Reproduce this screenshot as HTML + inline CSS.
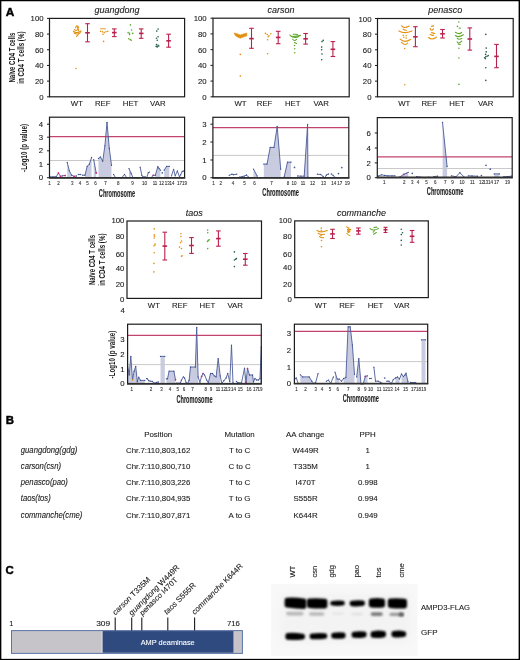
<!DOCTYPE html>
<html><head><meta charset="utf-8"><title>Figure</title>
<style>
html,body{margin:0;padding:0;background:#fff;}
body{width:520px;height:660px;overflow:hidden;}
svg{display:block;will-change:transform;font-family:"Liberation Sans", sans-serif;}
</style></head><body>
<svg width="520" height="660" viewBox="0 0 520 660">
<rect x="0" y="0" width="520" height="660" fill="#ffffff" />
<rect x="0" y="0" width="520" height="1.25" fill="#000" />
<rect x="0" y="658.85" width="520" height="1.15" fill="#000" />
<rect x="0" y="0" width="1.35" height="660" fill="#000" />
<rect x="518.6" y="0" width="1.4" height="660" fill="#000" />
<g style="stroke:#000;stroke-width:0.45px;font-weight:bold;fill:#000">
<text x="5.7" y="15.7" style="font-size:11.8px">A</text>
<text x="5.7" y="423.5" style="font-size:11.4px">B</text>
<text x="5.5" y="573.8" style="font-size:11.4px">C</text>
</g>
<rect x="49.5" y="18.4" width="135.1" height="78.4" fill="none" stroke="#1c1c1c" stroke-width="1.2"/>
<text  x="117.05" y="13.3" text-anchor="middle" style="font-size:9px;font-style:italic;fill:#1a1a1a;stroke:#1a1a1a;stroke-width:0.1px" >guangdong</text>
<text  x="43.6" y="99.8" text-anchor="end" style="font-size:7.8px;fill:#1a1a1a;stroke:#1a1a1a;stroke-width:0.1px" >0</text>
<line x1="47" y1="96.8" x2="49.5" y2="96.8" stroke="#1c1c1c" stroke-width="1" />
<text  x="43.6" y="84.12" text-anchor="end" style="font-size:7.8px;fill:#1a1a1a;stroke:#1a1a1a;stroke-width:0.1px" >20</text>
<line x1="47" y1="81.12" x2="49.5" y2="81.12" stroke="#1c1c1c" stroke-width="1" />
<text  x="43.6" y="68.44" text-anchor="end" style="font-size:7.8px;fill:#1a1a1a;stroke:#1a1a1a;stroke-width:0.1px" >40</text>
<line x1="47" y1="65.44" x2="49.5" y2="65.44" stroke="#1c1c1c" stroke-width="1" />
<text  x="43.6" y="52.76" text-anchor="end" style="font-size:7.8px;fill:#1a1a1a;stroke:#1a1a1a;stroke-width:0.1px" >60</text>
<line x1="47" y1="49.76" x2="49.5" y2="49.76" stroke="#1c1c1c" stroke-width="1" />
<text  x="43.6" y="37.08" text-anchor="end" style="font-size:7.8px;fill:#1a1a1a;stroke:#1a1a1a;stroke-width:0.1px" >80</text>
<line x1="47" y1="34.08" x2="49.5" y2="34.08" stroke="#1c1c1c" stroke-width="1" />
<text  x="43.6" y="21.4" text-anchor="end" style="font-size:7.8px;fill:#1a1a1a;stroke:#1a1a1a;stroke-width:0.1px" >100</text>
<line x1="47" y1="18.4" x2="49.5" y2="18.4" stroke="#1c1c1c" stroke-width="1" />
<text  x="76.9" y="106.3" text-anchor="middle" style="font-size:7.8px;fill:#1a1a1a;stroke:#1a1a1a;stroke-width:0.1px" >WT</text>
<text  x="102.7" y="106.3" text-anchor="middle" style="font-size:7.8px;fill:#1a1a1a;stroke:#1a1a1a;stroke-width:0.1px" >REF</text>
<text  x="130.6" y="106.3" text-anchor="middle" style="font-size:7.8px;fill:#1a1a1a;stroke:#1a1a1a;stroke-width:0.1px" >HET</text>
<text  x="157.8" y="106.3" text-anchor="middle" style="font-size:7.8px;fill:#1a1a1a;stroke:#1a1a1a;stroke-width:0.1px" >VAR</text>
<rect x="213" y="18.2" width="136.2" height="78.6" fill="none" stroke="#1c1c1c" stroke-width="1.2"/>
<text  x="281.1" y="13.3" text-anchor="middle" style="font-size:9px;font-style:italic;fill:#1a1a1a;stroke:#1a1a1a;stroke-width:0.1px" >carson</text>
<text  x="206.7" y="99.8" text-anchor="end" style="font-size:7.8px;fill:#1a1a1a;stroke:#1a1a1a;stroke-width:0.1px" >0</text>
<line x1="210.5" y1="96.8" x2="213" y2="96.8" stroke="#1c1c1c" stroke-width="1" />
<text  x="206.7" y="84.08" text-anchor="end" style="font-size:7.8px;fill:#1a1a1a;stroke:#1a1a1a;stroke-width:0.1px" >20</text>
<line x1="210.5" y1="81.08" x2="213" y2="81.08" stroke="#1c1c1c" stroke-width="1" />
<text  x="206.7" y="68.36" text-anchor="end" style="font-size:7.8px;fill:#1a1a1a;stroke:#1a1a1a;stroke-width:0.1px" >40</text>
<line x1="210.5" y1="65.36" x2="213" y2="65.36" stroke="#1c1c1c" stroke-width="1" />
<text  x="206.7" y="52.64" text-anchor="end" style="font-size:7.8px;fill:#1a1a1a;stroke:#1a1a1a;stroke-width:0.1px" >60</text>
<line x1="210.5" y1="49.64" x2="213" y2="49.64" stroke="#1c1c1c" stroke-width="1" />
<text  x="206.7" y="36.92" text-anchor="end" style="font-size:7.8px;fill:#1a1a1a;stroke:#1a1a1a;stroke-width:0.1px" >80</text>
<line x1="210.5" y1="33.92" x2="213" y2="33.92" stroke="#1c1c1c" stroke-width="1" />
<text  x="206.7" y="21.2" text-anchor="end" style="font-size:7.8px;fill:#1a1a1a;stroke:#1a1a1a;stroke-width:0.1px" >100</text>
<line x1="210.5" y1="18.2" x2="213" y2="18.2" stroke="#1c1c1c" stroke-width="1" />
<text  x="240.5" y="106.3" text-anchor="middle" style="font-size:7.8px;fill:#1a1a1a;stroke:#1a1a1a;stroke-width:0.1px" >WT</text>
<text  x="264.6" y="106.3" text-anchor="middle" style="font-size:7.8px;fill:#1a1a1a;stroke:#1a1a1a;stroke-width:0.1px" >REF</text>
<text  x="292.7" y="106.3" text-anchor="middle" style="font-size:7.8px;fill:#1a1a1a;stroke:#1a1a1a;stroke-width:0.1px" >HET</text>
<text  x="321.2" y="106.3" text-anchor="middle" style="font-size:7.8px;fill:#1a1a1a;stroke:#1a1a1a;stroke-width:0.1px" >VAR</text>
<rect x="377.5" y="18.5" width="135.7" height="78.3" fill="none" stroke="#1c1c1c" stroke-width="1.2"/>
<text  x="445.35" y="13.3" text-anchor="middle" style="font-size:9px;font-style:italic;fill:#1a1a1a;stroke:#1a1a1a;stroke-width:0.1px" >penasco</text>
<text  x="371.5" y="99.8" text-anchor="end" style="font-size:7.8px;fill:#1a1a1a;stroke:#1a1a1a;stroke-width:0.1px" >0</text>
<line x1="375" y1="96.8" x2="377.5" y2="96.8" stroke="#1c1c1c" stroke-width="1" />
<text  x="371.5" y="84.14" text-anchor="end" style="font-size:7.8px;fill:#1a1a1a;stroke:#1a1a1a;stroke-width:0.1px" >20</text>
<line x1="375" y1="81.14" x2="377.5" y2="81.14" stroke="#1c1c1c" stroke-width="1" />
<text  x="371.5" y="68.48" text-anchor="end" style="font-size:7.8px;fill:#1a1a1a;stroke:#1a1a1a;stroke-width:0.1px" >40</text>
<line x1="375" y1="65.48" x2="377.5" y2="65.48" stroke="#1c1c1c" stroke-width="1" />
<text  x="371.5" y="52.82" text-anchor="end" style="font-size:7.8px;fill:#1a1a1a;stroke:#1a1a1a;stroke-width:0.1px" >60</text>
<line x1="375" y1="49.82" x2="377.5" y2="49.82" stroke="#1c1c1c" stroke-width="1" />
<text  x="371.5" y="37.16" text-anchor="end" style="font-size:7.8px;fill:#1a1a1a;stroke:#1a1a1a;stroke-width:0.1px" >80</text>
<line x1="375" y1="34.16" x2="377.5" y2="34.16" stroke="#1c1c1c" stroke-width="1" />
<text  x="371.5" y="21.5" text-anchor="end" style="font-size:7.8px;fill:#1a1a1a;stroke:#1a1a1a;stroke-width:0.1px" >100</text>
<line x1="375" y1="18.5" x2="377.5" y2="18.5" stroke="#1c1c1c" stroke-width="1" />
<text  x="404.2" y="106.3" text-anchor="middle" style="font-size:7.8px;fill:#1a1a1a;stroke:#1a1a1a;stroke-width:0.1px" >WT</text>
<text  x="429.2" y="106.3" text-anchor="middle" style="font-size:7.8px;fill:#1a1a1a;stroke:#1a1a1a;stroke-width:0.1px" >REF</text>
<text  x="457.1" y="106.3" text-anchor="middle" style="font-size:7.8px;fill:#1a1a1a;stroke:#1a1a1a;stroke-width:0.1px" >HET</text>
<text  x="485.7" y="106.3" text-anchor="middle" style="font-size:7.8px;fill:#1a1a1a;stroke:#1a1a1a;stroke-width:0.1px" >VAR</text>
<rect x="127" y="221" width="134.5" height="77.4" fill="none" stroke="#1c1c1c" stroke-width="1.2"/>
<text  x="194.25" y="216.2" text-anchor="middle" style="font-size:9px;font-style:italic;fill:#1a1a1a;stroke:#1a1a1a;stroke-width:0.1px" >taos</text>
<text  x="124.4" y="223.3" text-anchor="end" style="font-size:7.8px;fill:#1a1a1a;stroke:#1a1a1a;stroke-width:0.1px" >100</text>
<text  x="124.4" y="239.2" text-anchor="end" style="font-size:7.8px;fill:#1a1a1a;stroke:#1a1a1a;stroke-width:0.1px" >80</text>
<text  x="124.4" y="256.9" text-anchor="end" style="font-size:7.8px;fill:#1a1a1a;stroke:#1a1a1a;stroke-width:0.1px" >60</text>
<text  x="124.4" y="270.7" text-anchor="end" style="font-size:7.8px;fill:#1a1a1a;stroke:#1a1a1a;stroke-width:0.1px" >40</text>
<text  x="124.4" y="286.6" text-anchor="end" style="font-size:7.8px;fill:#1a1a1a;stroke:#1a1a1a;stroke-width:0.1px" >20</text>
<text  x="124.4" y="301.8" text-anchor="end" style="font-size:7.8px;fill:#1a1a1a;stroke:#1a1a1a;stroke-width:0.1px" >0</text>
<text  x="153.9" y="308.4" text-anchor="middle" style="font-size:7.8px;fill:#1a1a1a;stroke:#1a1a1a;stroke-width:0.1px" >WT</text>
<text  x="179.8" y="308.4" text-anchor="middle" style="font-size:7.8px;fill:#1a1a1a;stroke:#1a1a1a;stroke-width:0.1px" >REF</text>
<text  x="207.4" y="308.4" text-anchor="middle" style="font-size:7.8px;fill:#1a1a1a;stroke:#1a1a1a;stroke-width:0.1px" >HET</text>
<text  x="235.2" y="308.4" text-anchor="middle" style="font-size:7.8px;fill:#1a1a1a;stroke:#1a1a1a;stroke-width:0.1px" >VAR</text>
<rect x="294.7" y="220.9" width="133.6" height="76.7" fill="none" stroke="#1c1c1c" stroke-width="1.2"/>
<text  x="361.5" y="216.2" text-anchor="middle" style="font-size:9px;font-style:italic;fill:#1a1a1a;stroke:#1a1a1a;stroke-width:0.1px" >commanche</text>
<text  x="291.8" y="223.2" text-anchor="end" style="font-size:7.8px;fill:#1a1a1a;stroke:#1a1a1a;stroke-width:0.1px" >100</text>
<text  x="291.8" y="239.2" text-anchor="end" style="font-size:7.8px;fill:#1a1a1a;stroke:#1a1a1a;stroke-width:0.1px" >80</text>
<text  x="291.8" y="256.9" text-anchor="end" style="font-size:7.8px;fill:#1a1a1a;stroke:#1a1a1a;stroke-width:0.1px" >60</text>
<text  x="291.8" y="270.4" text-anchor="end" style="font-size:7.8px;fill:#1a1a1a;stroke:#1a1a1a;stroke-width:0.1px" >40</text>
<text  x="291.8" y="286.6" text-anchor="end" style="font-size:7.8px;fill:#1a1a1a;stroke:#1a1a1a;stroke-width:0.1px" >20</text>
<text  x="291.8" y="301.6" text-anchor="end" style="font-size:7.8px;fill:#1a1a1a;stroke:#1a1a1a;stroke-width:0.1px" >0</text>
<text  x="320.9" y="307.8" text-anchor="middle" style="font-size:7.8px;fill:#1a1a1a;stroke:#1a1a1a;stroke-width:0.1px" >WT</text>
<text  x="347" y="307.8" text-anchor="middle" style="font-size:7.8px;fill:#1a1a1a;stroke:#1a1a1a;stroke-width:0.1px" >REF</text>
<text  x="375.5" y="307.8" text-anchor="middle" style="font-size:7.8px;fill:#1a1a1a;stroke:#1a1a1a;stroke-width:0.1px" >HET</text>
<text  x="401.8" y="307.8" text-anchor="middle" style="font-size:7.8px;fill:#1a1a1a;stroke:#1a1a1a;stroke-width:0.1px" >VAR</text>
<text transform="translate(15.3 57.6) rotate(-90)" x="0" y="0" text-anchor="middle" textLength="49.8" lengthAdjust="spacingAndGlyphs" style="font-size:8.4px;fill:#1a1a1a;font-weight:bold">Naïve CD4 T cells</text>
<text transform="translate(23.9 57.6) rotate(-90)" x="0" y="0" text-anchor="middle" textLength="52.2" lengthAdjust="spacingAndGlyphs" style="font-size:8.4px;fill:#1a1a1a;font-weight:bold">in CD4 T cells (%)</text>
<text transform="translate(94.9 260) rotate(-90)" x="0" y="0" text-anchor="middle" textLength="50" lengthAdjust="spacingAndGlyphs" style="font-size:8.4px;fill:#1a1a1a;font-weight:bold">Naïve CD4 T cells</text>
<text transform="translate(104.5 259.6) rotate(-90)" x="0" y="0" text-anchor="middle" textLength="52.3" lengthAdjust="spacingAndGlyphs" style="font-size:8.4px;fill:#1a1a1a;font-weight:bold">in CD4 T cells (%)</text>
<path d="M75.6 27.6 Q76.9 24.3 78.6 27.4" fill="none" stroke="#e2900f" stroke-width="1.15" stroke-linecap="round" stroke-linejoin="round"/>
<path d="M74.4 29.6 Q76.5 31.3 78.2 29" fill="none" stroke="#e2900f" stroke-width="1.15" stroke-linecap="round" stroke-linejoin="round"/>
<path d="M73.4 31.2 Q76.7 34.1 81.2 31" fill="none" stroke="#e2900f" stroke-width="1.15" stroke-linecap="round" stroke-linejoin="round"/>
<path d="M74.2 33 Q77.5 35.2 80.4 32.6" fill="none" stroke="#e2900f" stroke-width="1.15" stroke-linecap="round" stroke-linejoin="round"/>
<path d="M76.6 36.4 Q77.3 35.2 78.4 34.8" fill="none" stroke="#e2900f" stroke-width="1.15" stroke-linecap="round" stroke-linejoin="round"/>
<path d="M77.4 27.4 L78.6 30.6" fill="none" stroke="#e2900f" stroke-width="1.15" stroke-linecap="round" stroke-linejoin="round"/>
<circle cx="76" cy="68.5" r="0.8" fill="#e2900f"/>
<line x1="87.5" y1="23.7" x2="87.5" y2="41.8" stroke="#b9214d" stroke-width="1.1" />
<line x1="85.2" y1="23.7" x2="89.8" y2="23.7" stroke="#b9214d" stroke-width="1.1" />
<line x1="85.2" y1="41.8" x2="89.8" y2="41.8" stroke="#b9214d" stroke-width="1.1" />
<line x1="85.2" y1="32.8" x2="89.8" y2="32.8" stroke="#b9214d" stroke-width="1.6" />
<circle cx="101" cy="28.8" r="0.8" fill="#e2900f"/>
<circle cx="103" cy="28.8" r="0.8" fill="#e2900f"/>
<circle cx="105" cy="28.8" r="0.8" fill="#e2900f"/>
<circle cx="100.6" cy="31.2" r="0.8" fill="#e2900f"/>
<circle cx="102.4" cy="31.8" r="0.8" fill="#e2900f"/>
<circle cx="104.2" cy="32.6" r="0.8" fill="#e2900f"/>
<circle cx="106" cy="31.8" r="0.8" fill="#e2900f"/>
<circle cx="107.8" cy="31.2" r="0.8" fill="#e2900f"/>
<circle cx="103" cy="34.2" r="0.8" fill="#e2900f"/>
<circle cx="103.6" cy="41.4" r="0.8" fill="#e2900f"/>
<line x1="114.3" y1="28.9" x2="114.3" y2="36.6" stroke="#b9214d" stroke-width="1.1" />
<line x1="112" y1="28.9" x2="116.6" y2="28.9" stroke="#b9214d" stroke-width="1.1" />
<line x1="112" y1="36.6" x2="116.6" y2="36.6" stroke="#b9214d" stroke-width="1.1" />
<line x1="112" y1="32.6" x2="116.6" y2="32.6" stroke="#b9214d" stroke-width="1.6" />
<circle cx="130.4" cy="24.9" r="0.8" fill="#5fa82e"/>
<circle cx="131.6" cy="30" r="0.8" fill="#5fa82e"/>
<circle cx="128.1" cy="32.6" r="0.8" fill="#5fa82e"/>
<circle cx="129.4" cy="33.4" r="0.8" fill="#5fa82e"/>
<circle cx="132.7" cy="33.4" r="0.8" fill="#5fa82e"/>
<circle cx="129.6" cy="34.6" r="0.8" fill="#5fa82e"/>
<circle cx="128.8" cy="38.8" r="0.8" fill="#5fa82e"/>
<circle cx="130.2" cy="39.6" r="0.8" fill="#5fa82e"/>
<circle cx="131.2" cy="40.3" r="0.8" fill="#5fa82e"/>
<line x1="141.2" y1="28.9" x2="141.2" y2="38.3" stroke="#b9214d" stroke-width="1.1" />
<line x1="138.9" y1="28.9" x2="143.5" y2="28.9" stroke="#b9214d" stroke-width="1.1" />
<line x1="138.9" y1="38.3" x2="143.5" y2="38.3" stroke="#b9214d" stroke-width="1.1" />
<line x1="138.9" y1="33.4" x2="143.5" y2="33.4" stroke="#b9214d" stroke-width="1.6" />
<circle cx="158.1" cy="29.1" r="0.8" fill="#1f5b42"/>
<circle cx="156.8" cy="31.1" r="0.8" fill="#1f5b42"/>
<circle cx="158.1" cy="36.8" r="0.8" fill="#1f5b42"/>
<circle cx="156.5" cy="38.3" r="0.8" fill="#1f5b42"/>
<circle cx="157.3" cy="40.3" r="0.8" fill="#1f5b42"/>
<circle cx="156.5" cy="44.5" r="0.8" fill="#1f5b42"/>
<circle cx="158.1" cy="45.4" r="0.8" fill="#1f5b42"/>
<circle cx="157.3" cy="46.9" r="0.8" fill="#1f5b42"/>
<circle cx="158.8" cy="46" r="0.8" fill="#1f5b42"/>
<circle cx="156.2" cy="46.4" r="0.8" fill="#1f5b42"/>
<line x1="168.6" y1="34.2" x2="168.6" y2="47.2" stroke="#b9214d" stroke-width="1.1" />
<line x1="166.3" y1="34.2" x2="170.9" y2="34.2" stroke="#b9214d" stroke-width="1.1" />
<line x1="166.3" y1="47.2" x2="170.9" y2="47.2" stroke="#b9214d" stroke-width="1.1" />
<line x1="166.3" y1="40.8" x2="170.9" y2="40.8" stroke="#b9214d" stroke-width="1.6" />
<path d="M234.2 33.0 L237.2 33.8 L240.2 35.0 L243.2 34.0 L246.6 33.0 L246.9 35.8 L243.4 37.0 L240.3 38.2 L237.4 37.0 L235.0 35.2 Z" fill="#e2900f" stroke="#e2900f" stroke-width="0.6" stroke-linejoin="round"/>
<circle cx="240.3" cy="54.4" r="0.8" fill="#e2900f"/>
<circle cx="240.3" cy="75.9" r="0.8" fill="#e2900f"/>
<line x1="251.5" y1="28.3" x2="251.5" y2="48.3" stroke="#b9214d" stroke-width="1.1" />
<line x1="249.2" y1="28.3" x2="253.8" y2="28.3" stroke="#b9214d" stroke-width="1.1" />
<line x1="249.2" y1="48.3" x2="253.8" y2="48.3" stroke="#b9214d" stroke-width="1.1" />
<line x1="249.2" y1="38.6" x2="253.8" y2="38.6" stroke="#b9214d" stroke-width="1.6" />
<circle cx="265.4" cy="33.4" r="0.8" fill="#e2900f"/>
<circle cx="267.2" cy="34.6" r="0.8" fill="#e2900f"/>
<circle cx="269" cy="35.8" r="0.8" fill="#e2900f"/>
<circle cx="270.8" cy="33.8" r="0.8" fill="#e2900f"/>
<circle cx="268.2" cy="36.8" r="0.8" fill="#e2900f"/>
<circle cx="267.6" cy="39.8" r="0.8" fill="#e2900f"/>
<circle cx="267.6" cy="53.8" r="0.8" fill="#e2900f"/>
<line x1="278.2" y1="31.3" x2="278.2" y2="43.7" stroke="#b9214d" stroke-width="1.1" />
<line x1="275.9" y1="31.3" x2="280.5" y2="31.3" stroke="#b9214d" stroke-width="1.1" />
<line x1="275.9" y1="43.7" x2="280.5" y2="43.7" stroke="#b9214d" stroke-width="1.1" />
<line x1="275.9" y1="37.4" x2="280.5" y2="37.4" stroke="#b9214d" stroke-width="1.6" />
<path d="M289.8 35 Q291.1 37.8 300.4 35.4" fill="none" stroke="#5fa82e" stroke-width="1.1" stroke-linecap="round" stroke-linejoin="round"/>
<path d="M293.1 34.3 Q295.3 34 297.5 34.5" fill="none" stroke="#5fa82e" stroke-width="1.1" stroke-linecap="round" stroke-linejoin="round"/>
<path d="M291.3 36.5 Q295.5 38.3 298.9 36.5" fill="none" stroke="#5fa82e" stroke-width="1.1" stroke-linecap="round" stroke-linejoin="round"/>
<path d="M292.7 39.2 Q294.4 41.7 296.5 39.4" fill="none" stroke="#5fa82e" stroke-width="1.1" stroke-linecap="round" stroke-linejoin="round"/>
<path d="M294.4 42.5 Q295.55 43 296.5 43.5" fill="none" stroke="#5fa82e" stroke-width="1.1" stroke-linecap="round" stroke-linejoin="round"/>
<circle cx="294.5" cy="45.5" r="0.8" fill="#5fa82e"/>
<circle cx="294.7" cy="48.8" r="0.8" fill="#5fa82e"/>
<circle cx="294.7" cy="52.8" r="0.8" fill="#5fa82e"/>
<line x1="305.6" y1="33.5" x2="305.6" y2="44.1" stroke="#b9214d" stroke-width="1.1" />
<line x1="303.3" y1="33.5" x2="307.9" y2="33.5" stroke="#b9214d" stroke-width="1.1" />
<line x1="303.3" y1="44.1" x2="307.9" y2="44.1" stroke="#b9214d" stroke-width="1.1" />
<line x1="303.3" y1="38.8" x2="307.9" y2="38.8" stroke="#b9214d" stroke-width="1.6" />
<circle cx="323.2" cy="40.4" r="0.8" fill="#1f5b42"/>
<circle cx="322" cy="41.6" r="0.8" fill="#1f5b42"/>
<circle cx="321.7" cy="47.1" r="0.8" fill="#1f5b42"/>
<circle cx="321.7" cy="49.8" r="0.8" fill="#1f5b42"/>
<circle cx="322" cy="54" r="0.8" fill="#1f5b42"/>
<circle cx="321.7" cy="59.8" r="0.8" fill="#1f5b42"/>
<line x1="332.9" y1="41.6" x2="332.9" y2="56.5" stroke="#b9214d" stroke-width="1.1" />
<line x1="330.6" y1="41.6" x2="335.2" y2="41.6" stroke="#b9214d" stroke-width="1.1" />
<line x1="330.6" y1="56.5" x2="335.2" y2="56.5" stroke="#b9214d" stroke-width="1.1" />
<line x1="330.6" y1="49.3" x2="335.2" y2="49.3" stroke="#b9214d" stroke-width="1.6" />
<path d="M401.5 25.8 Q403.65 29.1 409.2 26" fill="none" stroke="#e2900f" stroke-width="1.15" stroke-linecap="round" stroke-linejoin="round"/>
<path d="M403.2 29.2 Q404.7 30.05 406.2 30.3" fill="none" stroke="#e2900f" stroke-width="1.15" stroke-linecap="round" stroke-linejoin="round"/>
<path d="M399 30.9 Q404.35 34.3 411.9 30.9" fill="none" stroke="#e2900f" stroke-width="1.15" stroke-linecap="round" stroke-linejoin="round"/>
<path d="M400.2 39.2 Q404.5 43.3 410.4 39.4" fill="none" stroke="#e2900f" stroke-width="1.15" stroke-linecap="round" stroke-linejoin="round"/>
<path d="M401.5 42.4 Q405.2 46.3 407.7 43" fill="none" stroke="#e2900f" stroke-width="1.15" stroke-linecap="round" stroke-linejoin="round"/>
<circle cx="403.2" cy="35.2" r="0.75" fill="#e2900f"/>
<circle cx="406.2" cy="35.6" r="0.75" fill="#e2900f"/>
<circle cx="403.9" cy="37.3" r="0.75" fill="#e2900f"/>
<circle cx="406.2" cy="37.9" r="0.75" fill="#e2900f"/>
<circle cx="404.7" cy="48.5" r="0.75" fill="#e2900f"/>
<circle cx="404.8" cy="84.7" r="0.75" fill="#e2900f"/>
<line x1="415.4" y1="26.7" x2="415.4" y2="46.7" stroke="#b9214d" stroke-width="1.1" />
<line x1="413.1" y1="26.7" x2="417.7" y2="26.7" stroke="#b9214d" stroke-width="1.1" />
<line x1="413.1" y1="46.7" x2="417.7" y2="46.7" stroke="#b9214d" stroke-width="1.1" />
<line x1="413.1" y1="36.8" x2="417.7" y2="36.8" stroke="#b9214d" stroke-width="1.6" />
<path d="M431.5 26.4 Q432.6 26.05 433.7 25.9" fill="none" stroke="#e2900f" stroke-width="1.15" stroke-linecap="round" stroke-linejoin="round"/>
<path d="M430.2 28.5 Q431.2 31.75 433.4 28.8" fill="none" stroke="#e2900f" stroke-width="1.15" stroke-linecap="round" stroke-linejoin="round"/>
<path d="M431.5 32.6 Q433.25 32.95 434.8 33.5" fill="none" stroke="#e2900f" stroke-width="1.15" stroke-linecap="round" stroke-linejoin="round"/>
<path d="M430.2 34.4 Q431.7 35.8 433.6 35.2" fill="none" stroke="#e2900f" stroke-width="1.15" stroke-linecap="round" stroke-linejoin="round"/>
<path d="M428.7 37.5 Q431.5 40.65 436.3 37.2" fill="none" stroke="#e2900f" stroke-width="1.15" stroke-linecap="round" stroke-linejoin="round"/>
<line x1="442.5" y1="29.5" x2="442.5" y2="38" stroke="#b9214d" stroke-width="1.1" />
<line x1="440.2" y1="29.5" x2="444.8" y2="29.5" stroke="#b9214d" stroke-width="1.1" />
<line x1="440.2" y1="38" x2="444.8" y2="38" stroke="#b9214d" stroke-width="1.1" />
<line x1="440.2" y1="33.8" x2="444.8" y2="33.8" stroke="#b9214d" stroke-width="1.6" />
<path d="M459 28 Q459.8 28.1 460.6 28.2" fill="none" stroke="#5fa82e" stroke-width="1.1" stroke-linecap="round" stroke-linejoin="round"/>
<path d="M455.4 32.3 Q459.15 34.8 461.5 32.5" fill="none" stroke="#5fa82e" stroke-width="1.1" stroke-linecap="round" stroke-linejoin="round"/>
<path d="M455.4 35.5 Q458.2 38.05 463.4 34.8" fill="none" stroke="#5fa82e" stroke-width="1.1" stroke-linecap="round" stroke-linejoin="round"/>
<path d="M457.2 38.4 Q459.1 40.2 461.8 38.4" fill="none" stroke="#5fa82e" stroke-width="1.1" stroke-linecap="round" stroke-linejoin="round"/>
<path d="M457.2 41.8 Q458.1 44.55 461.8 41.1" fill="none" stroke="#5fa82e" stroke-width="1.1" stroke-linecap="round" stroke-linejoin="round"/>
<path d="M458.4 44.1 Q459.4 44.3 460.4 44.5" fill="none" stroke="#5fa82e" stroke-width="1.1" stroke-linecap="round" stroke-linejoin="round"/>
<circle cx="458.8" cy="22" r="0.8" fill="#5fa82e"/>
<circle cx="457.4" cy="26.4" r="0.8" fill="#5fa82e"/>
<circle cx="458.9" cy="48.3" r="0.8" fill="#5fa82e"/>
<circle cx="458.9" cy="58" r="0.8" fill="#5fa82e"/>
<circle cx="458.9" cy="84.4" r="0.8" fill="#5fa82e"/>
<line x1="469.8" y1="27.9" x2="469.8" y2="50.1" stroke="#b9214d" stroke-width="1.1" />
<line x1="467.5" y1="27.9" x2="472.1" y2="27.9" stroke="#b9214d" stroke-width="1.1" />
<line x1="467.5" y1="50.1" x2="472.1" y2="50.1" stroke="#b9214d" stroke-width="1.1" />
<line x1="467.5" y1="39" x2="472.1" y2="39" stroke="#b9214d" stroke-width="1.6" />
<circle cx="485.8" cy="34.4" r="0.8" fill="#1f5b42"/>
<circle cx="486.2" cy="48.1" r="0.8" fill="#1f5b42"/>
<circle cx="486.2" cy="51.9" r="0.8" fill="#1f5b42"/>
<circle cx="485.6" cy="54.4" r="0.8" fill="#1f5b42"/>
<circle cx="484.6" cy="57.8" r="0.8" fill="#1f5b42"/>
<circle cx="485.8" cy="56.8" r="0.8" fill="#1f5b42"/>
<circle cx="487" cy="56.2" r="0.8" fill="#1f5b42"/>
<circle cx="488.2" cy="55.6" r="0.8" fill="#1f5b42"/>
<circle cx="485.4" cy="58.6" r="0.8" fill="#1f5b42"/>
<circle cx="485.8" cy="67.7" r="0.8" fill="#1f5b42"/>
<circle cx="485.8" cy="80.4" r="0.8" fill="#1f5b42"/>
<line x1="496.5" y1="44.4" x2="496.5" y2="67.7" stroke="#b9214d" stroke-width="1.1" />
<line x1="494.2" y1="44.4" x2="498.8" y2="44.4" stroke="#b9214d" stroke-width="1.1" />
<line x1="494.2" y1="67.7" x2="498.8" y2="67.7" stroke="#b9214d" stroke-width="1.1" />
<line x1="494.2" y1="56.4" x2="498.8" y2="56.4" stroke="#b9214d" stroke-width="1.6" />
<circle cx="154.2" cy="228.9" r="0.8" fill="#e2900f"/>
<circle cx="154.2" cy="234.9" r="0.8" fill="#e2900f"/>
<circle cx="154.5" cy="236.2" r="0.8" fill="#e2900f"/>
<circle cx="154.2" cy="238" r="0.8" fill="#e2900f"/>
<circle cx="155.1" cy="244" r="0.8" fill="#e2900f"/>
<circle cx="153.9" cy="245.8" r="0.8" fill="#e2900f"/>
<circle cx="154.9" cy="245" r="0.8" fill="#e2900f"/>
<circle cx="154.2" cy="252.8" r="0.8" fill="#e2900f"/>
<circle cx="153.9" cy="263.4" r="0.8" fill="#e2900f"/>
<circle cx="153.9" cy="271.9" r="0.8" fill="#e2900f"/>
<line x1="164.8" y1="232.2" x2="164.8" y2="260" stroke="#b9214d" stroke-width="1.1" />
<line x1="162.5" y1="232.2" x2="167.1" y2="232.2" stroke="#b9214d" stroke-width="1.1" />
<line x1="162.5" y1="260" x2="167.1" y2="260" stroke="#b9214d" stroke-width="1.1" />
<line x1="162.5" y1="246.1" x2="167.1" y2="246.1" stroke="#b9214d" stroke-width="1.6" />
<circle cx="180.9" cy="233.7" r="0.8" fill="#e2900f"/>
<circle cx="180.9" cy="236.5" r="0.8" fill="#e2900f"/>
<circle cx="181.5" cy="241" r="0.8" fill="#e2900f"/>
<circle cx="180.6" cy="242.6" r="0.8" fill="#e2900f"/>
<circle cx="179.4" cy="247.1" r="0.8" fill="#e2900f"/>
<circle cx="181.5" cy="248.6" r="0.8" fill="#e2900f"/>
<circle cx="181.5" cy="256.2" r="0.8" fill="#e2900f"/>
<circle cx="182.1" cy="255.8" r="0.8" fill="#e2900f"/>
<line x1="191.5" y1="237.6" x2="191.5" y2="253.4" stroke="#b9214d" stroke-width="1.1" />
<line x1="189.2" y1="237.6" x2="193.8" y2="237.6" stroke="#b9214d" stroke-width="1.1" />
<line x1="189.2" y1="253.4" x2="193.8" y2="253.4" stroke="#b9214d" stroke-width="1.1" />
<line x1="189.2" y1="245.5" x2="193.8" y2="245.5" stroke="#b9214d" stroke-width="1.6" />
<circle cx="207.7" cy="230.1" r="0.8" fill="#5fa82e"/>
<circle cx="207.7" cy="232.8" r="0.8" fill="#5fa82e"/>
<circle cx="208.3" cy="240.4" r="0.8" fill="#5fa82e"/>
<circle cx="207.5" cy="241.4" r="0.8" fill="#5fa82e"/>
<circle cx="209.2" cy="239.8" r="0.8" fill="#5fa82e"/>
<circle cx="207.7" cy="248.6" r="0.8" fill="#5fa82e"/>
<line x1="218.4" y1="230.9" x2="218.4" y2="246.2" stroke="#b9214d" stroke-width="1.1" />
<line x1="216.1" y1="230.9" x2="220.7" y2="230.9" stroke="#b9214d" stroke-width="1.1" />
<line x1="216.1" y1="246.2" x2="220.7" y2="246.2" stroke="#b9214d" stroke-width="1.1" />
<line x1="216.1" y1="238.6" x2="220.7" y2="238.6" stroke="#b9214d" stroke-width="1.6" />
<circle cx="234.4" cy="251.9" r="0.8" fill="#1f5b42"/>
<circle cx="235.6" cy="259.2" r="0.8" fill="#1f5b42"/>
<circle cx="234.4" cy="260" r="0.8" fill="#1f5b42"/>
<circle cx="236.4" cy="258.6" r="0.8" fill="#1f5b42"/>
<circle cx="234.4" cy="266.6" r="0.8" fill="#1f5b42"/>
<line x1="245.3" y1="253.5" x2="245.3" y2="265.2" stroke="#b9214d" stroke-width="1.1" />
<line x1="243" y1="253.5" x2="247.6" y2="253.5" stroke="#b9214d" stroke-width="1.1" />
<line x1="243" y1="265.2" x2="247.6" y2="265.2" stroke="#b9214d" stroke-width="1.1" />
<line x1="243" y1="259.2" x2="247.6" y2="259.2" stroke="#b9214d" stroke-width="1.6" />
<path d="M317 230.3 Q320.1 233.4 327.2 230.5" fill="none" stroke="#e2900f" stroke-width="1.15" stroke-linecap="round" stroke-linejoin="round"/>
<path d="M318.3 233.4 Q320.85 235 324.4 234.2" fill="none" stroke="#e2900f" stroke-width="1.15" stroke-linecap="round" stroke-linejoin="round"/>
<path d="M319.5 236.6 Q321.55 238.1 323.4 237.6" fill="none" stroke="#e2900f" stroke-width="1.15" stroke-linecap="round" stroke-linejoin="round"/>
<circle cx="321.3" cy="228.1" r="0.8" fill="#e2900f"/>
<circle cx="321.3" cy="230.3" r="0.8" fill="#e2900f"/>
<circle cx="321.1" cy="235.4" r="0.8" fill="#e2900f"/>
<circle cx="321.5" cy="240.5" r="0.8" fill="#e2900f"/>
<circle cx="321.5" cy="246.8" r="0.8" fill="#e2900f"/>
<line x1="332.5" y1="229.3" x2="332.5" y2="238.5" stroke="#b9214d" stroke-width="1.1" />
<line x1="330.2" y1="229.3" x2="334.8" y2="229.3" stroke="#b9214d" stroke-width="1.1" />
<line x1="330.2" y1="238.5" x2="334.8" y2="238.5" stroke="#b9214d" stroke-width="1.1" />
<line x1="330.2" y1="233.9" x2="334.8" y2="233.9" stroke="#b9214d" stroke-width="1.6" />
<path d="M346.2 226.8 L349.4 228.2 L347 229.6 L351.2 229.6 L347 231.2 L350.2 231.6 L346.8 233.4 L348.6 235.2 L350 235.4" fill="none" stroke="#e2900f" stroke-width="1" stroke-linecap="round" stroke-linejoin="round"/>
<line x1="358.4" y1="228" x2="358.4" y2="234.2" stroke="#b9214d" stroke-width="1.1" />
<line x1="356.1" y1="228" x2="360.7" y2="228" stroke="#b9214d" stroke-width="1.1" />
<line x1="356.1" y1="234.2" x2="360.7" y2="234.2" stroke="#b9214d" stroke-width="1.1" />
<line x1="356.1" y1="230.9" x2="360.7" y2="230.9" stroke="#b9214d" stroke-width="1.6" />
<path d="M370 228.6 Q373.7 231.5 378.6 228.4" fill="none" stroke="#5fa82e" stroke-width="1.1" stroke-linecap="round" stroke-linejoin="round"/>
<path d="M374 227.6 Q375.5 227 377 227.2" fill="none" stroke="#5fa82e" stroke-width="1.1" stroke-linecap="round" stroke-linejoin="round"/>
<path d="M374.5 230.5 Q373.75 231.45 373.2 232.2" fill="none" stroke="#5fa82e" stroke-width="1.1" stroke-linecap="round" stroke-linejoin="round"/>
<path d="M373.6 234.2 Q375 233.4 376.4 232.6" fill="none" stroke="#5fa82e" stroke-width="1.1" stroke-linecap="round" stroke-linejoin="round"/>
<line x1="385.5" y1="227.3" x2="385.5" y2="232.5" stroke="#b9214d" stroke-width="1.1" />
<line x1="383.5" y1="227.3" x2="387.5" y2="227.3" stroke="#b9214d" stroke-width="1.1" />
<line x1="383.5" y1="232.5" x2="387.5" y2="232.5" stroke="#b9214d" stroke-width="1.1" />
<line x1="383.5" y1="229.7" x2="387.5" y2="229.7" stroke="#b9214d" stroke-width="1.6" />
<circle cx="401.3" cy="229.3" r="0.8" fill="#1f5b42"/>
<circle cx="402.5" cy="232.8" r="0.8" fill="#1f5b42"/>
<circle cx="401.3" cy="234.6" r="0.8" fill="#1f5b42"/>
<circle cx="401.3" cy="240.4" r="0.8" fill="#1f5b42"/>
<circle cx="401.3" cy="245" r="0.8" fill="#1f5b42"/>
<line x1="412.1" y1="230.5" x2="412.1" y2="242.3" stroke="#b9214d" stroke-width="1.1" />
<line x1="409.8" y1="230.5" x2="414.4" y2="230.5" stroke="#b9214d" stroke-width="1.1" />
<line x1="409.8" y1="242.3" x2="414.4" y2="242.3" stroke="#b9214d" stroke-width="1.1" />
<line x1="409.8" y1="236.3" x2="414.4" y2="236.3" stroke="#b9214d" stroke-width="1.6" />
<path d="M67.2 177.7 L67.2 162.3 L69.3 170.7 L71.6 175.2 L71.6 177.7 Z" fill="#c9cce0"/>
<path d="M85 177.7 L85 175.2 L87.2 166.3 L89.3 164.2 L91.6 157.5 L91.6 177.7 Z" fill="#c9cce0"/>
<path d="M93.7 177.7 L93.7 159.6 L96.2 172.9 L96.2 177.7 Z" fill="#c9cce0"/>
<path d="M98.5 177.7 L98.5 158.5 L100.4 156.9 L102.7 161.2 L104.9 145.8 L107 122.4 L109.3 148.4 L111.5 165.4 L111.5 177.7 Z" fill="#c9cce0"/>
<path d="M129 177.7 L129 168.6 L131.2 173.4 L131.2 177.7 Z" fill="#c9cce0"/>
<path d="M155.3 177.7 L155.3 175.3 L157.8 166.7 L159.1 168.5 L160.4 170.2 L160.4 177.7 Z" fill="#c9cce0"/>
<path d="M164.2 177.7 L164.2 170.2 L166.6 166.4 L169.3 166.4 L169.3 177.7 Z" fill="#c9cce0"/>
<line x1="49.5" y1="160.5" x2="184.6" y2="160.5" stroke="#c9c9c9" stroke-width="1" />
<line x1="49.5" y1="136.6" x2="184.6" y2="136.6" stroke="#c2446d" stroke-width="1.2" />
<path d="M49.9 176.9 L53 176.8 L56.2 176.7 L58.4 173.1 L60.5 176.4 L62.4 175.8 L65.1 175.5" fill="none" stroke="#4b5b98" stroke-width="0.9" stroke-linejoin="round"/>
<circle cx="49.9" cy="176.9" r="0.65" fill="#3d4f90"/>
<circle cx="53" cy="176.8" r="0.65" fill="#3d4f90"/>
<circle cx="56.2" cy="176.7" r="0.65" fill="#3d4f90"/>
<circle cx="58.4" cy="173.1" r="0.65" fill="#3d4f90"/>
<circle cx="60.5" cy="176.4" r="0.65" fill="#3d4f90"/>
<circle cx="62.4" cy="175.8" r="0.65" fill="#3d4f90"/>
<circle cx="65.1" cy="175.5" r="0.65" fill="#3d4f90"/>
<path d="M67.2 162.3 L69.3 170.7 L71.6 175.2 L74.2 176.4 L76.4 176" fill="none" stroke="#4b5b98" stroke-width="0.9" stroke-linejoin="round"/>
<circle cx="67.2" cy="162.3" r="0.65" fill="#3d4f90"/>
<circle cx="69.3" cy="170.7" r="0.65" fill="#3d4f90"/>
<circle cx="71.6" cy="175.2" r="0.65" fill="#3d4f90"/>
<circle cx="74.2" cy="176.4" r="0.65" fill="#3d4f90"/>
<circle cx="76.4" cy="176" r="0.65" fill="#3d4f90"/>
<path d="M78.3 174.5 L80.7 174.5" fill="none" stroke="#4b5b98" stroke-width="0.9" stroke-linejoin="round"/>
<circle cx="78.3" cy="174.5" r="0.65" fill="#3d4f90"/>
<circle cx="80.7" cy="174.5" r="0.65" fill="#3d4f90"/>
<path d="M82.6 175.2 L85 175.2 L87.2 166.3 L89.3 164.2 L91.6 157.5" fill="none" stroke="#4b5b98" stroke-width="0.9" stroke-linejoin="round"/>
<circle cx="82.6" cy="175.2" r="0.65" fill="#3d4f90"/>
<circle cx="85" cy="175.2" r="0.65" fill="#3d4f90"/>
<circle cx="87.2" cy="166.3" r="0.65" fill="#3d4f90"/>
<circle cx="89.3" cy="164.2" r="0.65" fill="#3d4f90"/>
<circle cx="91.6" cy="157.5" r="0.65" fill="#3d4f90"/>
<path d="M93.7 159.6 L96.2 172.9" fill="none" stroke="#4b5b98" stroke-width="0.9" stroke-linejoin="round"/>
<circle cx="93.7" cy="159.6" r="0.65" fill="#3d4f90"/>
<circle cx="96.2" cy="172.9" r="0.65" fill="#3d4f90"/>
<path d="M98.5 158.5 L100.4 156.9 L102.7 161.2 L104.9 145.8 L107 122.4 L109.3 148.4 L111.5 165.4" fill="none" stroke="#4b5b98" stroke-width="0.9" stroke-linejoin="round"/>
<circle cx="98.5" cy="158.5" r="0.65" fill="#3d4f90"/>
<circle cx="100.4" cy="156.9" r="0.65" fill="#3d4f90"/>
<circle cx="102.7" cy="161.2" r="0.65" fill="#3d4f90"/>
<circle cx="104.9" cy="145.8" r="0.65" fill="#3d4f90"/>
<circle cx="107" cy="122.4" r="0.65" fill="#3d4f90"/>
<circle cx="109.3" cy="148.4" r="0.65" fill="#3d4f90"/>
<circle cx="111.5" cy="165.4" r="0.65" fill="#3d4f90"/>
<path d="M113.6 174.4 L115.5 177.6 L121.8 177.8 L124.5 174.4 L126.6 177.6" fill="none" stroke="#4b5b98" stroke-width="0.9" stroke-linejoin="round"/>
<circle cx="113.6" cy="174.4" r="0.65" fill="#3d4f90"/>
<circle cx="115.5" cy="177.6" r="0.65" fill="#3d4f90"/>
<circle cx="121.8" cy="177.8" r="0.65" fill="#3d4f90"/>
<circle cx="124.5" cy="174.4" r="0.65" fill="#3d4f90"/>
<circle cx="126.6" cy="177.6" r="0.65" fill="#3d4f90"/>
<path d="M129 168.6 L131.2 173.4 L133 177.6 L138.6 177.8" fill="none" stroke="#4b5b98" stroke-width="0.9" stroke-linejoin="round"/>
<circle cx="129" cy="168.6" r="0.65" fill="#3d4f90"/>
<circle cx="131.2" cy="173.4" r="0.65" fill="#3d4f90"/>
<circle cx="133" cy="177.6" r="0.65" fill="#3d4f90"/>
<circle cx="138.6" cy="177.8" r="0.65" fill="#3d4f90"/>
<path d="M140.2 167.2 L141.8 175.3 L142.9 176.9 L145.1 176.9 L146.7 177.8 L148.3 172.6 L149.4 172.1" fill="none" stroke="#4b5b98" stroke-width="0.9" stroke-linejoin="round"/>
<circle cx="140.2" cy="167.2" r="0.65" fill="#3d4f90"/>
<circle cx="141.8" cy="175.3" r="0.65" fill="#3d4f90"/>
<circle cx="142.9" cy="176.9" r="0.65" fill="#3d4f90"/>
<circle cx="145.1" cy="176.9" r="0.65" fill="#3d4f90"/>
<circle cx="146.7" cy="177.8" r="0.65" fill="#3d4f90"/>
<circle cx="148.3" cy="172.6" r="0.65" fill="#3d4f90"/>
<circle cx="149.4" cy="172.1" r="0.65" fill="#3d4f90"/>
<path d="M151 178 L153.2 175.3 L155.3 175.3 L157.8 166.7 L159.1 168.5 L160.4 170.2" fill="none" stroke="#4b5b98" stroke-width="0.9" stroke-linejoin="round"/>
<circle cx="151" cy="178" r="0.65" fill="#3d4f90"/>
<circle cx="153.2" cy="175.3" r="0.65" fill="#3d4f90"/>
<circle cx="155.3" cy="175.3" r="0.65" fill="#3d4f90"/>
<circle cx="157.8" cy="166.7" r="0.65" fill="#3d4f90"/>
<circle cx="159.1" cy="168.5" r="0.65" fill="#3d4f90"/>
<circle cx="160.4" cy="170.2" r="0.65" fill="#3d4f90"/>
<path d="M164.2 170.2 L166.6 166.4 L169.3 166.4" fill="none" stroke="#4b5b98" stroke-width="0.9" stroke-linejoin="round"/>
<circle cx="164.2" cy="170.2" r="0.65" fill="#3d4f90"/>
<circle cx="166.6" cy="166.4" r="0.65" fill="#3d4f90"/>
<circle cx="169.3" cy="166.4" r="0.65" fill="#3d4f90"/>
<path d="M171.5 175.8 L173.6 169.4 L175.2 175.8 L177.4 171 L179.5 176.9 L180.6 174.8 L182.2 171.5 L183.8 171" fill="none" stroke="#4b5b98" stroke-width="0.9" stroke-linejoin="round"/>
<circle cx="171.5" cy="175.8" r="0.65" fill="#3d4f90"/>
<circle cx="173.6" cy="169.4" r="0.65" fill="#3d4f90"/>
<circle cx="175.2" cy="175.8" r="0.65" fill="#3d4f90"/>
<circle cx="177.4" cy="171" r="0.65" fill="#3d4f90"/>
<circle cx="179.5" cy="176.9" r="0.65" fill="#3d4f90"/>
<circle cx="180.6" cy="174.8" r="0.65" fill="#3d4f90"/>
<circle cx="182.2" cy="171.5" r="0.65" fill="#3d4f90"/>
<circle cx="183.8" cy="171" r="0.65" fill="#3d4f90"/>
<circle cx="58.4" cy="173.1" r="0.85" fill="#e0208a"/>
<circle cx="60.5" cy="176.4" r="0.85" fill="#e0208a"/>
<circle cx="65.1" cy="175.5" r="0.85" fill="#e0208a"/>
<circle cx="74.2" cy="176.4" r="0.85" fill="#e0208a"/>
<circle cx="96.2" cy="172.9" r="0.85" fill="#e0208a"/>
<circle cx="153.2" cy="175.3" r="0.85" fill="#e0208a"/>
<circle cx="162.3" cy="172.8" r="0.85" fill="#4b5b98"/>
<rect x="49.5" y="117.2" width="135.1" height="60.5" fill="none" stroke="#1c1c1c" stroke-width="1.2"/>
<line x1="48.9" y1="178.05" x2="185.2" y2="178.05" stroke="#303030" stroke-width="1.6" />
<text  x="43.2" y="180.3" text-anchor="end" style="font-size:7.8px;fill:#1a1a1a;stroke:#1a1a1a;stroke-width:0.1px" >0</text>
<line x1="47" y1="177.7" x2="49.5" y2="177.7" stroke="#1c1c1c" stroke-width="1" />
<text  x="43.2" y="166.9" text-anchor="end" style="font-size:7.8px;fill:#1a1a1a;stroke:#1a1a1a;stroke-width:0.1px" >1</text>
<line x1="47" y1="164.3" x2="49.5" y2="164.3" stroke="#1c1c1c" stroke-width="1" />
<text  x="43.2" y="153.4" text-anchor="end" style="font-size:7.8px;fill:#1a1a1a;stroke:#1a1a1a;stroke-width:0.1px" >2</text>
<line x1="47" y1="150.8" x2="49.5" y2="150.8" stroke="#1c1c1c" stroke-width="1" />
<text  x="43.2" y="139.8" text-anchor="end" style="font-size:7.8px;fill:#1a1a1a;stroke:#1a1a1a;stroke-width:0.1px" >3</text>
<line x1="47" y1="137.2" x2="49.5" y2="137.2" stroke="#1c1c1c" stroke-width="1" />
<text  x="43.2" y="126.8" text-anchor="end" style="font-size:7.8px;fill:#1a1a1a;stroke:#1a1a1a;stroke-width:0.1px" >4</text>
<line x1="47" y1="124.2" x2="49.5" y2="124.2" stroke="#1c1c1c" stroke-width="1" />
<text  x="49.5" y="184.8" text-anchor="middle" style="font-size:4.5px;fill:#333;stroke:#333;stroke-width:0.1px" >1</text>
<text  x="58.5" y="184.8" text-anchor="middle" style="font-size:4.5px;fill:#333;stroke:#333;stroke-width:0.1px" >2</text>
<text  x="72.3" y="184.8" text-anchor="middle" style="font-size:4.5px;fill:#333;stroke:#333;stroke-width:0.1px" >3</text>
<text  x="80" y="184.8" text-anchor="middle" style="font-size:4.5px;fill:#333;stroke:#333;stroke-width:0.1px" >4</text>
<text  x="87.4" y="184.8" text-anchor="middle" style="font-size:4.5px;fill:#333;stroke:#333;stroke-width:0.1px" >5</text>
<text  x="95.4" y="184.8" text-anchor="middle" style="font-size:4.5px;fill:#333;stroke:#333;stroke-width:0.1px" >6</text>
<text  x="105.4" y="184.8" text-anchor="middle" style="font-size:4.5px;fill:#333;stroke:#333;stroke-width:0.1px" >7</text>
<text  x="118.2" y="184.8" text-anchor="middle" style="font-size:4.5px;fill:#333;stroke:#333;stroke-width:0.1px" >8</text>
<text  x="132.5" y="184.8" text-anchor="middle" style="font-size:4.5px;fill:#333;stroke:#333;stroke-width:0.1px" >9</text>
<text  x="144.4" y="184.8" text-anchor="middle" style="font-size:4.5px;fill:#333;stroke:#333;stroke-width:0.1px" >10</text>
<text  x="155" y="184.8" text-anchor="middle" style="font-size:4.5px;fill:#333;stroke:#333;stroke-width:0.1px" >11</text>
<text  x="161.5" y="184.8" text-anchor="middle" style="font-size:4.5px;fill:#333;stroke:#333;stroke-width:0.1px" >12</text>
<text  x="167.2" y="184.8" text-anchor="middle" style="font-size:4.5px;fill:#333;stroke:#333;stroke-width:0.1px" >13</text>
<text  x="171.9" y="184.8" text-anchor="middle" style="font-size:4.5px;fill:#333;stroke:#333;stroke-width:0.1px" >14</text>
<text  x="179.6" y="184.8" text-anchor="middle" style="font-size:4.5px;fill:#333;stroke:#333;stroke-width:0.1px" >17</text>
<text  x="184.4" y="184.8" text-anchor="middle" style="font-size:4.5px;fill:#333;stroke:#333;stroke-width:0.1px" >19</text>
<text  x="117" y="196.5" text-anchor="middle" textLength="36.3" lengthAdjust="spacingAndGlyphs" style="font-size:10.2px;font-weight:bold;fill:#1a1a1a;stroke:#1a1a1a;stroke-width:0.1px" >Chromosome</text>
<path d="M253.5 177.7 L253.5 169.1 L257.2 176.1 L257.2 177.7 Z" fill="#c9cce0"/>
<path d="M263.8 177.7 L263.8 164.1 L267 164.1 L270.2 147.4 L274 147.4 L277.2 126.5 L280.7 169.2 L280.7 177.7 Z" fill="#c9cce0"/>
<path d="M284.2 177.7 L284.2 176.8 L287.5 162.2 L291 162.2 L291 177.7 Z" fill="#c9cce0"/>
<path d="M304.2 177.7 L304.2 176.2 L307.6 124.5 L307.9 176.8 L307.9 177.7 Z" fill="#c9cce0"/>
<line x1="212.9" y1="155.4" x2="348.8" y2="155.4" stroke="#c9c9c9" stroke-width="1" />
<line x1="212.9" y1="127.6" x2="348.8" y2="127.6" stroke="#c2446d" stroke-width="1.2" />
<path d="M213.6 177.7 L226.5 177.7" fill="none" stroke="#4b5b98" stroke-width="0.9" stroke-linejoin="round"/>
<circle cx="213.6" cy="177.7" r="0.65" fill="#3d4f90"/>
<circle cx="226.5" cy="177.7" r="0.65" fill="#3d4f90"/>
<path d="M229.2 175.3 L231.9 174.2 L233.5 174.7 L236.8 174.2" fill="none" stroke="#4b5b98" stroke-width="0.9" stroke-linejoin="round"/>
<circle cx="229.2" cy="175.3" r="0.65" fill="#3d4f90"/>
<circle cx="231.9" cy="174.2" r="0.65" fill="#3d4f90"/>
<circle cx="233.5" cy="174.7" r="0.65" fill="#3d4f90"/>
<circle cx="236.8" cy="174.2" r="0.65" fill="#3d4f90"/>
<path d="M239.5 177.2 L242.2 176.6 L244.3 176.1 L246.5 175 L248.6 177.2" fill="none" stroke="#4b5b98" stroke-width="0.9" stroke-linejoin="round"/>
<circle cx="239.5" cy="177.2" r="0.65" fill="#3d4f90"/>
<circle cx="242.2" cy="176.6" r="0.65" fill="#3d4f90"/>
<circle cx="244.3" cy="176.1" r="0.65" fill="#3d4f90"/>
<circle cx="246.5" cy="175" r="0.65" fill="#3d4f90"/>
<circle cx="248.6" cy="177.2" r="0.65" fill="#3d4f90"/>
<path d="M253.5 169.1 L257.2 176.1" fill="none" stroke="#4b5b98" stroke-width="0.9" stroke-linejoin="round"/>
<circle cx="253.5" cy="169.1" r="0.65" fill="#3d4f90"/>
<circle cx="257.2" cy="176.1" r="0.65" fill="#3d4f90"/>
<path d="M263.8 164.1 L267 164.1 L270.2 147.4 L274 147.4 L277.2 126.5 L280.7 169.2" fill="none" stroke="#4b5b98" stroke-width="0.9" stroke-linejoin="round"/>
<circle cx="263.8" cy="164.1" r="0.65" fill="#3d4f90"/>
<circle cx="267" cy="164.1" r="0.65" fill="#3d4f90"/>
<circle cx="270.2" cy="147.4" r="0.65" fill="#3d4f90"/>
<circle cx="274" cy="147.4" r="0.65" fill="#3d4f90"/>
<circle cx="277.2" cy="126.5" r="0.65" fill="#3d4f90"/>
<circle cx="280.7" cy="169.2" r="0.65" fill="#3d4f90"/>
<path d="M284.2 176.8 L287.5 162.2 L291 162.2" fill="none" stroke="#4b5b98" stroke-width="0.9" stroke-linejoin="round"/>
<circle cx="284.2" cy="176.8" r="0.65" fill="#3d4f90"/>
<circle cx="287.5" cy="162.2" r="0.65" fill="#3d4f90"/>
<circle cx="291" cy="162.2" r="0.65" fill="#3d4f90"/>
<path d="M297.7 176 L300.9 176.2 L304.2 176.2 L307.6 124.5 L307.9 176.8" fill="none" stroke="#4b5b98" stroke-width="0.9" stroke-linejoin="round"/>
<circle cx="297.7" cy="176" r="0.65" fill="#3d4f90"/>
<circle cx="300.9" cy="176.2" r="0.65" fill="#3d4f90"/>
<circle cx="304.2" cy="176.2" r="0.65" fill="#3d4f90"/>
<circle cx="307.6" cy="124.5" r="0.65" fill="#3d4f90"/>
<circle cx="307.9" cy="176.8" r="0.65" fill="#3d4f90"/>
<path d="M317.3 174.2 L320.7 174.5 L323.1 176.4 L324.8 177.9 L326.4 175 L328.4 174" fill="none" stroke="#4b5b98" stroke-width="0.9" stroke-linejoin="round"/>
<circle cx="317.3" cy="174.2" r="0.65" fill="#3d4f90"/>
<circle cx="320.7" cy="174.5" r="0.65" fill="#3d4f90"/>
<circle cx="323.1" cy="176.4" r="0.65" fill="#3d4f90"/>
<circle cx="324.8" cy="177.9" r="0.65" fill="#3d4f90"/>
<circle cx="326.4" cy="175" r="0.65" fill="#3d4f90"/>
<circle cx="328.4" cy="174" r="0.65" fill="#3d4f90"/>
<path d="M331.3 174 L333.2 175.5 L335.1 177.4" fill="none" stroke="#4b5b98" stroke-width="0.9" stroke-linejoin="round"/>
<circle cx="331.3" cy="174" r="0.65" fill="#3d4f90"/>
<circle cx="333.2" cy="175.5" r="0.65" fill="#3d4f90"/>
<circle cx="335.1" cy="177.4" r="0.65" fill="#3d4f90"/>
<circle cx="250.2" cy="177.9" r="0.85" fill="#e0b020"/>
<circle cx="294.5" cy="167.4" r="0.85" fill="#4b5b98"/>
<circle cx="338.5" cy="173.6" r="0.85" fill="#4b5b98"/>
<circle cx="341.8" cy="167.6" r="0.85" fill="#4b5b98"/>
<rect x="212.9" y="117.3" width="135.9" height="60.4" fill="none" stroke="#1c1c1c" stroke-width="1.2"/>
<line x1="212.3" y1="178.05" x2="349.4" y2="178.05" stroke="#303030" stroke-width="1.6" />
<text  x="206.6" y="180.3" text-anchor="end" style="font-size:7.8px;fill:#1a1a1a;stroke:#1a1a1a;stroke-width:0.1px" >0</text>
<line x1="210.4" y1="177.7" x2="212.9" y2="177.7" stroke="#1c1c1c" stroke-width="1" />
<text  x="206.6" y="162.6" text-anchor="end" style="font-size:7.8px;fill:#1a1a1a;stroke:#1a1a1a;stroke-width:0.1px" >1</text>
<line x1="210.4" y1="160" x2="212.9" y2="160" stroke="#1c1c1c" stroke-width="1" />
<text  x="206.6" y="144.6" text-anchor="end" style="font-size:7.8px;fill:#1a1a1a;stroke:#1a1a1a;stroke-width:0.1px" >2</text>
<line x1="210.4" y1="142" x2="212.9" y2="142" stroke="#1c1c1c" stroke-width="1" />
<text  x="206.6" y="126.8" text-anchor="end" style="font-size:7.8px;fill:#1a1a1a;stroke:#1a1a1a;stroke-width:0.1px" >3</text>
<line x1="210.4" y1="124.2" x2="212.9" y2="124.2" stroke="#1c1c1c" stroke-width="1" />
<text  x="213.4" y="184.8" text-anchor="middle" style="font-size:4.5px;fill:#333;stroke:#333;stroke-width:0.1px" >1</text>
<text  x="220.8" y="184.8" text-anchor="middle" style="font-size:4.5px;fill:#333;stroke:#333;stroke-width:0.1px" >2</text>
<text  x="233" y="184.8" text-anchor="middle" style="font-size:4.5px;fill:#333;stroke:#333;stroke-width:0.1px" >4</text>
<text  x="244.6" y="184.8" text-anchor="middle" style="font-size:4.5px;fill:#333;stroke:#333;stroke-width:0.1px" >5</text>
<text  x="254.6" y="184.8" text-anchor="middle" style="font-size:4.5px;fill:#333;stroke:#333;stroke-width:0.1px" >6</text>
<text  x="271.6" y="184.8" text-anchor="middle" style="font-size:4.5px;fill:#333;stroke:#333;stroke-width:0.1px" >7</text>
<text  x="288" y="184.8" text-anchor="middle" style="font-size:4.5px;fill:#333;stroke:#333;stroke-width:0.1px" >8</text>
<text  x="294" y="184.8" text-anchor="middle" style="font-size:4.5px;fill:#333;stroke:#333;stroke-width:0.1px" >10</text>
<text  x="303" y="184.8" text-anchor="middle" style="font-size:4.5px;fill:#333;stroke:#333;stroke-width:0.1px" >11</text>
<text  x="312.6" y="184.8" text-anchor="middle" style="font-size:4.5px;fill:#333;stroke:#333;stroke-width:0.1px" >12</text>
<text  x="323.5" y="184.8" text-anchor="middle" style="font-size:4.5px;fill:#333;stroke:#333;stroke-width:0.1px" >13</text>
<text  x="333.7" y="184.8" text-anchor="middle" style="font-size:4.5px;fill:#333;stroke:#333;stroke-width:0.1px" >14</text>
<text  x="339.8" y="184.8" text-anchor="middle" style="font-size:4.5px;fill:#333;stroke:#333;stroke-width:0.1px" >17</text>
<text  x="347.2" y="184.8" text-anchor="middle" style="font-size:4.5px;fill:#333;stroke:#333;stroke-width:0.1px" >19</text>
<text  x="280.6" y="196.4" text-anchor="middle" textLength="36.5" lengthAdjust="spacingAndGlyphs" style="font-size:10.2px;font-weight:bold;fill:#1a1a1a;stroke:#1a1a1a;stroke-width:0.1px" >Chromosome</text>
<path d="M399.4 177.3 L399.4 177.2 L403.7 174.4 L406.2 173.3 L408.2 172.3 L408.2 177.3 Z" fill="#c9cce0"/>
<path d="M442.6 177.3 L442.6 122.4 L447.1 166.5 L447.1 177.3 Z" fill="#c9cce0"/>
<path d="M494.2 177.3 L494.2 173.9 L499.4 173.9 L499.4 177.3 Z" fill="#c9cce0"/>
<line x1="377.3" y1="168.5" x2="512.2" y2="168.5" stroke="#c9c9c9" stroke-width="1" />
<line x1="377.3" y1="156.9" x2="512.2" y2="156.9" stroke="#c2446d" stroke-width="1.2" />
<path d="M378.5 176 L381.5 174.8 L384.6 175.4 L388 175.8 L392 175.8 L395 175.8" fill="none" stroke="#4b5b98" stroke-width="0.9" stroke-linejoin="round"/>
<circle cx="378.5" cy="176" r="0.65" fill="#3d4f90"/>
<circle cx="381.5" cy="174.8" r="0.65" fill="#3d4f90"/>
<circle cx="384.6" cy="175.4" r="0.65" fill="#3d4f90"/>
<circle cx="388" cy="175.8" r="0.65" fill="#3d4f90"/>
<circle cx="392" cy="175.8" r="0.65" fill="#3d4f90"/>
<circle cx="395" cy="175.8" r="0.65" fill="#3d4f90"/>
<path d="M399.4 177.2 L403.7 174.4 L406.2 173.3 L408.2 172.3" fill="none" stroke="#4b5b98" stroke-width="0.9" stroke-linejoin="round"/>
<circle cx="399.4" cy="177.2" r="0.65" fill="#3d4f90"/>
<circle cx="403.7" cy="174.4" r="0.65" fill="#3d4f90"/>
<circle cx="406.2" cy="173.3" r="0.65" fill="#3d4f90"/>
<circle cx="408.2" cy="172.3" r="0.65" fill="#3d4f90"/>
<path d="M416.6 176.6 L420 177.2 L425.2 177.6 L429 177.2" fill="none" stroke="#4b5b98" stroke-width="0.9" stroke-linejoin="round"/>
<circle cx="416.6" cy="176.6" r="0.65" fill="#3d4f90"/>
<circle cx="420" cy="177.2" r="0.65" fill="#3d4f90"/>
<circle cx="425.2" cy="177.6" r="0.65" fill="#3d4f90"/>
<circle cx="429" cy="177.2" r="0.65" fill="#3d4f90"/>
<path d="M433.8 176.6 L437.5 176.2" fill="none" stroke="#4b5b98" stroke-width="0.9" stroke-linejoin="round"/>
<circle cx="433.8" cy="176.6" r="0.65" fill="#3d4f90"/>
<circle cx="437.5" cy="176.2" r="0.65" fill="#3d4f90"/>
<path d="M442.5 122.4 L447.1 166.5" fill="none" stroke="#4b5b98" stroke-width="0.9" stroke-linejoin="round"/>
<circle cx="442.5" cy="122.4" r="0.65" fill="#3d4f90"/>
<circle cx="447.1" cy="166.5" r="0.65" fill="#3d4f90"/>
<path d="M451.4 175.8 L456 176.8 L459.8 172.7 L464.5 177.3" fill="none" stroke="#4b5b98" stroke-width="0.9" stroke-linejoin="round"/>
<circle cx="451.4" cy="175.8" r="0.65" fill="#3d4f90"/>
<circle cx="456" cy="176.8" r="0.65" fill="#3d4f90"/>
<circle cx="459.8" cy="172.7" r="0.65" fill="#3d4f90"/>
<circle cx="464.5" cy="177.3" r="0.65" fill="#3d4f90"/>
<path d="M468.3 175.8 L472 176 L477.5 176.2" fill="none" stroke="#4b5b98" stroke-width="0.9" stroke-linejoin="round"/>
<circle cx="468.3" cy="175.8" r="0.65" fill="#3d4f90"/>
<circle cx="472" cy="176" r="0.65" fill="#3d4f90"/>
<circle cx="477.5" cy="176.2" r="0.65" fill="#3d4f90"/>
<path d="M494.2 173.9 L499.4 173.9" fill="none" stroke="#4b5b98" stroke-width="0.9" stroke-linejoin="round"/>
<circle cx="494.2" cy="173.9" r="0.65" fill="#3d4f90"/>
<circle cx="499.4" cy="173.9" r="0.65" fill="#3d4f90"/>
<path d="M503.7 176.8 L507.5 176.6 L511.4 176.2" fill="none" stroke="#4b5b98" stroke-width="0.9" stroke-linejoin="round"/>
<circle cx="503.7" cy="176.8" r="0.65" fill="#3d4f90"/>
<circle cx="507.5" cy="176.6" r="0.65" fill="#3d4f90"/>
<circle cx="511.4" cy="176.2" r="0.65" fill="#3d4f90"/>
<circle cx="403.7" cy="174.4" r="0.85" fill="#e0208a"/>
<circle cx="412.3" cy="173.3" r="0.85" fill="#4b5b98"/>
<circle cx="425.2" cy="177.6" r="0.85" fill="#e0b020"/>
<circle cx="481.4" cy="175.5" r="0.85" fill="#4b5b98"/>
<circle cx="486" cy="165.3" r="0.85" fill="#4b5b98"/>
<circle cx="490.3" cy="169.2" r="0.85" fill="#4b5b98"/>
<rect x="377.3" y="117.6" width="134.9" height="59.7" fill="none" stroke="#1c1c1c" stroke-width="1.2"/>
<line x1="376.7" y1="177.65" x2="512.8" y2="177.65" stroke="#303030" stroke-width="1.6" />
<text  x="370.8" y="180.3" text-anchor="end" style="font-size:7.8px;fill:#1a1a1a;stroke:#1a1a1a;stroke-width:0.1px" >0</text>
<line x1="374.8" y1="177.7" x2="377.3" y2="177.7" stroke="#1c1c1c" stroke-width="1" />
<text  x="370.8" y="165.5" text-anchor="end" style="font-size:7.8px;fill:#1a1a1a;stroke:#1a1a1a;stroke-width:0.1px" >2</text>
<line x1="374.8" y1="162.9" x2="377.3" y2="162.9" stroke="#1c1c1c" stroke-width="1" />
<text  x="370.8" y="150.6" text-anchor="end" style="font-size:7.8px;fill:#1a1a1a;stroke:#1a1a1a;stroke-width:0.1px" >4</text>
<line x1="374.8" y1="148" x2="377.3" y2="148" stroke="#1c1c1c" stroke-width="1" />
<text  x="370.8" y="135.6" text-anchor="end" style="font-size:7.8px;fill:#1a1a1a;stroke:#1a1a1a;stroke-width:0.1px" >6</text>
<line x1="374.8" y1="133" x2="377.3" y2="133" stroke="#1c1c1c" stroke-width="1" />
<text  x="384.2" y="184.3" text-anchor="middle" style="font-size:4.5px;fill:#333;stroke:#333;stroke-width:0.1px" >1</text>
<text  x="404.2" y="184.3" text-anchor="middle" style="font-size:4.5px;fill:#333;stroke:#333;stroke-width:0.1px" >2</text>
<text  x="412.2" y="184.3" text-anchor="middle" style="font-size:4.5px;fill:#333;stroke:#333;stroke-width:0.1px" >3</text>
<text  x="418" y="184.3" text-anchor="middle" style="font-size:4.5px;fill:#333;stroke:#333;stroke-width:0.1px" >4</text>
<text  x="426.5" y="184.3" text-anchor="middle" style="font-size:4.5px;fill:#333;stroke:#333;stroke-width:0.1px" >5</text>
<text  x="435.2" y="184.3" text-anchor="middle" style="font-size:4.5px;fill:#333;stroke:#333;stroke-width:0.1px" >6</text>
<text  x="445.2" y="184.3" text-anchor="middle" style="font-size:4.5px;fill:#333;stroke:#333;stroke-width:0.1px" >7</text>
<text  x="452.5" y="184.3" text-anchor="middle" style="font-size:4.5px;fill:#333;stroke:#333;stroke-width:0.1px" >9</text>
<text  x="462" y="184.3" text-anchor="middle" style="font-size:4.5px;fill:#333;stroke:#333;stroke-width:0.1px" >10</text>
<text  x="472.4" y="184.3" text-anchor="middle" style="font-size:4.5px;fill:#333;stroke:#333;stroke-width:0.1px" >11</text>
<text  x="481.4" y="184.3" text-anchor="middle" style="font-size:4.5px;fill:#333;stroke:#333;stroke-width:0.1px" >12</text>
<text  x="485.7" y="184.3" text-anchor="middle" style="font-size:4.5px;fill:#333;stroke:#333;stroke-width:0.1px" >13</text>
<text  x="490.6" y="184.3" text-anchor="middle" style="font-size:4.5px;fill:#333;stroke:#333;stroke-width:0.1px" >14</text>
<text  x="496.6" y="184.3" text-anchor="middle" style="font-size:4.5px;fill:#333;stroke:#333;stroke-width:0.1px" >17</text>
<text  x="507.4" y="184.3" text-anchor="middle" style="font-size:4.5px;fill:#333;stroke:#333;stroke-width:0.1px" >19</text>
<text  x="445.1" y="194.9" text-anchor="middle" textLength="36.6" lengthAdjust="spacingAndGlyphs" style="font-size:10.2px;font-weight:bold;fill:#1a1a1a;stroke:#1a1a1a;stroke-width:0.1px" >Chromosome</text>
<path d="M127.6 383.5 L127.6 365.8 L129.2 375 L130.8 356.4 L132.5 379.8 L134.1 371.2 L135.7 366.4 L137.3 381.5 L138.7 377.2 L140.5 380.4 L144.8 380.4 L144.8 383.5 Z" fill="#c9cce0"/>
<path d="M160.5 383.5 L160.5 356.4 L164.8 356.4 L164.8 383.5 Z" fill="#c9cce0"/>
<path d="M166.4 383.5 L166.4 378.8 L167.5 378.8 L169.1 371.2 L173.9 371.2 L175.5 379.8 L175.5 383.5 Z" fill="#c9cce0"/>
<path d="M189.1 383.5 L189.1 380.2 L190.5 367 L195.4 367 L196.7 327.4 L198.1 376.9 L198.1 383.5 Z" fill="#c9cce0"/>
<path d="M208.3 383.5 L208.3 382.8 L210.5 373.5 L212.6 373.5 L214.2 375.8 L216.1 376.9 L218.2 358.6 L220.2 375.8 L220.2 383.5 Z" fill="#c9cce0"/>
<path d="M244.5 383.5 L244.5 368.2 L246 382.5 L247.5 368.5 L249.5 375 L252.5 375 L253.5 382 L253.5 383.5 Z" fill="#c9cce0"/>
<path d="M260 383.5 L260 378.5 L261.3 347 L261.3 383.5 Z" fill="#c9cce0"/>
<line x1="127.6" y1="364.6" x2="261.3" y2="364.6" stroke="#c9c9c9" stroke-width="1" />
<line x1="127.6" y1="335.4" x2="261.3" y2="335.4" stroke="#c2446d" stroke-width="1.2" />
<path d="M127.6 365.8 L129.2 375 L130.8 356.4 L132.5 379.8 L134.1 371.2 L135.7 366.4 L137.3 381.5 L138.7 377.2 L140.5 380.4 L144.8 380.4" fill="none" stroke="#4b5b98" stroke-width="0.9" stroke-linejoin="round"/>
<circle cx="127.6" cy="365.8" r="0.65" fill="#3d4f90"/>
<circle cx="129.2" cy="375" r="0.65" fill="#3d4f90"/>
<circle cx="130.8" cy="356.4" r="0.65" fill="#3d4f90"/>
<circle cx="132.5" cy="379.8" r="0.65" fill="#3d4f90"/>
<circle cx="134.1" cy="371.2" r="0.65" fill="#3d4f90"/>
<circle cx="135.7" cy="366.4" r="0.65" fill="#3d4f90"/>
<circle cx="137.3" cy="381.5" r="0.65" fill="#3d4f90"/>
<circle cx="138.7" cy="377.2" r="0.65" fill="#3d4f90"/>
<circle cx="140.5" cy="380.4" r="0.65" fill="#3d4f90"/>
<circle cx="144.8" cy="380.4" r="0.65" fill="#3d4f90"/>
<path d="M146.5 378.6 L147.5 378.8 L148.6 380.7 L150.2 381.1 L152.4 381.5 L154 383.1 L156.7 382.5 L158.3 382" fill="none" stroke="#4b5b98" stroke-width="0.9" stroke-linejoin="round"/>
<circle cx="146.5" cy="378.6" r="0.65" fill="#3d4f90"/>
<circle cx="147.5" cy="378.8" r="0.65" fill="#3d4f90"/>
<circle cx="148.6" cy="380.7" r="0.65" fill="#3d4f90"/>
<circle cx="150.2" cy="381.1" r="0.65" fill="#3d4f90"/>
<circle cx="152.4" cy="381.5" r="0.65" fill="#3d4f90"/>
<circle cx="154" cy="383.1" r="0.65" fill="#3d4f90"/>
<circle cx="156.7" cy="382.5" r="0.65" fill="#3d4f90"/>
<circle cx="158.3" cy="382" r="0.65" fill="#3d4f90"/>
<path d="M160.5 356.4 L164.8 356.4" fill="none" stroke="#4b5b98" stroke-width="0.9" stroke-linejoin="round"/>
<circle cx="160.5" cy="356.4" r="0.65" fill="#3d4f90"/>
<circle cx="164.8" cy="356.4" r="0.65" fill="#3d4f90"/>
<path d="M166.4 378.8 L167.5 378.8 L169.1 371.2 L173.9 371.2 L175.5 379.8" fill="none" stroke="#4b5b98" stroke-width="0.9" stroke-linejoin="round"/>
<circle cx="166.4" cy="378.8" r="0.65" fill="#3d4f90"/>
<circle cx="167.5" cy="378.8" r="0.65" fill="#3d4f90"/>
<circle cx="169.1" cy="371.2" r="0.65" fill="#3d4f90"/>
<circle cx="173.9" cy="371.2" r="0.65" fill="#3d4f90"/>
<circle cx="175.5" cy="379.8" r="0.65" fill="#3d4f90"/>
<path d="M176.6 383.1 L180.4 383.1 L181.4 380.2 L183.3 376.9 L184.6 378 L186.2 382.8 L187.8 383.4 L189.1 380.2 L190.5 367 L195.4 367 L196.7 327.4 L198.1 376.9 L199.9 382.3 L201.6 376.4 L203.1 373.5 L204.5 374.8 L206.7 380.2 L208.3 382.8 L210.5 373.5 L212.6 373.5 L214.2 375.8 L216.1 376.9 L218.2 358.6 L220.2 375.8 L221.8 383.4 L223.9 380.7 L226.1 378 L227.7 373.5 L229.8 381.8 L231.5 345.2 L233 383" fill="none" stroke="#4b5b98" stroke-width="0.9" stroke-linejoin="round"/>
<circle cx="176.6" cy="383.1" r="0.65" fill="#3d4f90"/>
<circle cx="180.4" cy="383.1" r="0.65" fill="#3d4f90"/>
<circle cx="181.4" cy="380.2" r="0.65" fill="#3d4f90"/>
<circle cx="183.3" cy="376.9" r="0.65" fill="#3d4f90"/>
<circle cx="184.6" cy="378" r="0.65" fill="#3d4f90"/>
<circle cx="186.2" cy="382.8" r="0.65" fill="#3d4f90"/>
<circle cx="187.8" cy="383.4" r="0.65" fill="#3d4f90"/>
<circle cx="189.1" cy="380.2" r="0.65" fill="#3d4f90"/>
<circle cx="190.5" cy="367" r="0.65" fill="#3d4f90"/>
<circle cx="195.4" cy="367" r="0.65" fill="#3d4f90"/>
<circle cx="196.7" cy="327.4" r="0.65" fill="#3d4f90"/>
<circle cx="198.1" cy="376.9" r="0.65" fill="#3d4f90"/>
<circle cx="199.9" cy="382.3" r="0.65" fill="#3d4f90"/>
<circle cx="201.6" cy="376.4" r="0.65" fill="#3d4f90"/>
<circle cx="203.1" cy="373.5" r="0.65" fill="#3d4f90"/>
<circle cx="204.5" cy="374.8" r="0.65" fill="#3d4f90"/>
<circle cx="206.7" cy="380.2" r="0.65" fill="#3d4f90"/>
<circle cx="208.3" cy="382.8" r="0.65" fill="#3d4f90"/>
<circle cx="210.5" cy="373.5" r="0.65" fill="#3d4f90"/>
<circle cx="212.6" cy="373.5" r="0.65" fill="#3d4f90"/>
<circle cx="214.2" cy="375.8" r="0.65" fill="#3d4f90"/>
<circle cx="216.1" cy="376.9" r="0.65" fill="#3d4f90"/>
<circle cx="218.2" cy="358.6" r="0.65" fill="#3d4f90"/>
<circle cx="220.2" cy="375.8" r="0.65" fill="#3d4f90"/>
<circle cx="221.8" cy="383.4" r="0.65" fill="#3d4f90"/>
<circle cx="223.9" cy="380.7" r="0.65" fill="#3d4f90"/>
<circle cx="226.1" cy="378" r="0.65" fill="#3d4f90"/>
<circle cx="227.7" cy="373.5" r="0.65" fill="#3d4f90"/>
<circle cx="229.8" cy="381.8" r="0.65" fill="#3d4f90"/>
<circle cx="231.5" cy="345.2" r="0.65" fill="#3d4f90"/>
<circle cx="233" cy="383" r="0.65" fill="#3d4f90"/>
<path d="M236.5 381.5 L237.5 382.5 L241.5 383 L244.5 368.2 L246 382.5 L247.5 368.5 L249.5 375 L252.5 375 L253.5 382 L255 378.5 L256.5 380 L258.5 380 L260 378.5 L261.3 347" fill="none" stroke="#4b5b98" stroke-width="0.9" stroke-linejoin="round"/>
<circle cx="236.5" cy="381.5" r="0.65" fill="#3d4f90"/>
<circle cx="237.5" cy="382.5" r="0.65" fill="#3d4f90"/>
<circle cx="241.5" cy="383" r="0.65" fill="#3d4f90"/>
<circle cx="244.5" cy="368.2" r="0.65" fill="#3d4f90"/>
<circle cx="246" cy="382.5" r="0.65" fill="#3d4f90"/>
<circle cx="247.5" cy="368.5" r="0.65" fill="#3d4f90"/>
<circle cx="249.5" cy="375" r="0.65" fill="#3d4f90"/>
<circle cx="252.5" cy="375" r="0.65" fill="#3d4f90"/>
<circle cx="253.5" cy="382" r="0.65" fill="#3d4f90"/>
<circle cx="255" cy="378.5" r="0.65" fill="#3d4f90"/>
<circle cx="256.5" cy="380" r="0.65" fill="#3d4f90"/>
<circle cx="258.5" cy="380" r="0.65" fill="#3d4f90"/>
<circle cx="260" cy="378.5" r="0.65" fill="#3d4f90"/>
<circle cx="261.3" cy="347" r="0.65" fill="#3d4f90"/>
<circle cx="132.5" cy="379.8" r="0.85" fill="#e0a020"/>
<circle cx="137.3" cy="383" r="0.85" fill="#e0a020"/>
<circle cx="175.5" cy="379.8" r="0.85" fill="#e0208a"/>
<circle cx="201.6" cy="376.4" r="0.85" fill="#e0208a"/>
<circle cx="203.1" cy="373.5" r="0.85" fill="#e0208a"/>
<circle cx="199.5" cy="383.4" r="0.85" fill="#e0b020"/>
<circle cx="246" cy="382.5" r="0.85" fill="#e0208a"/>
<circle cx="247.5" cy="368.5" r="0.85" fill="#e0208a"/>
<rect x="127.6" y="324.2" width="133.7" height="59.3" fill="none" stroke="#1c1c1c" stroke-width="1.2"/>
<line x1="127" y1="383.85" x2="261.9" y2="383.85" stroke="#303030" stroke-width="1.6" />
<text  x="124.6" y="386" text-anchor="end" style="font-size:7.8px;fill:#1a1a1a;stroke:#1a1a1a;stroke-width:0.1px" >0</text>
<text  x="124.6" y="371.8" text-anchor="end" style="font-size:7.8px;fill:#1a1a1a;stroke:#1a1a1a;stroke-width:0.1px" >1</text>
<text  x="124.6" y="356.8" text-anchor="end" style="font-size:7.8px;fill:#1a1a1a;stroke:#1a1a1a;stroke-width:0.1px" >2</text>
<text  x="124.6" y="341.8" text-anchor="end" style="font-size:7.8px;fill:#1a1a1a;stroke:#1a1a1a;stroke-width:0.1px" >3</text>
<text  x="131.8" y="391" text-anchor="middle" style="font-size:4.5px;fill:#333;stroke:#333;stroke-width:0.1px" >1</text>
<text  x="151" y="391" text-anchor="middle" style="font-size:4.5px;fill:#333;stroke:#333;stroke-width:0.1px" >2</text>
<text  x="161.5" y="391" text-anchor="middle" style="font-size:4.5px;fill:#333;stroke:#333;stroke-width:0.1px" >3</text>
<text  x="170" y="391" text-anchor="middle" style="font-size:4.5px;fill:#333;stroke:#333;stroke-width:0.1px" >4</text>
<text  x="177.7" y="391" text-anchor="middle" style="font-size:4.5px;fill:#333;stroke:#333;stroke-width:0.1px" >5</text>
<text  x="184.1" y="391" text-anchor="middle" style="font-size:4.5px;fill:#333;stroke:#333;stroke-width:0.1px" >6</text>
<text  x="192.4" y="391" text-anchor="middle" style="font-size:4.5px;fill:#333;stroke:#333;stroke-width:0.1px" >7</text>
<text  x="205.7" y="391" text-anchor="middle" style="font-size:4.5px;fill:#333;stroke:#333;stroke-width:0.1px" >8</text>
<text  x="211" y="391" text-anchor="middle" style="font-size:4.5px;fill:#333;stroke:#333;stroke-width:0.1px" >9</text>
<text  x="218" y="391" text-anchor="middle" style="font-size:4.5px;fill:#333;stroke:#333;stroke-width:0.1px" >11</text>
<text  x="223.4" y="391" text-anchor="middle" style="font-size:4.5px;fill:#333;stroke:#333;stroke-width:0.1px" >12</text>
<text  x="228" y="391" text-anchor="middle" style="font-size:4.5px;fill:#333;stroke:#333;stroke-width:0.1px" >13</text>
<text  x="233.5" y="391" text-anchor="middle" style="font-size:4.5px;fill:#333;stroke:#333;stroke-width:0.1px" >14</text>
<text  x="240.2" y="391" text-anchor="middle" style="font-size:4.5px;fill:#333;stroke:#333;stroke-width:0.1px" >15</text>
<text  x="249" y="391" text-anchor="middle" style="font-size:4.5px;fill:#333;stroke:#333;stroke-width:0.1px" >16</text>
<text  x="255.4" y="391" text-anchor="middle" style="font-size:4.5px;fill:#333;stroke:#333;stroke-width:0.1px" >17</text>
<text  x="260" y="391" text-anchor="middle" style="font-size:4.5px;fill:#333;stroke:#333;stroke-width:0.1px" >19</text>
<text  x="194.5" y="402.6" text-anchor="middle" textLength="36" lengthAdjust="spacingAndGlyphs" style="font-size:10.2px;font-weight:bold;fill:#1a1a1a;stroke:#1a1a1a;stroke-width:0.1px" >Chromosome</text>
<path d="M300.3 383.4 L300.3 374.8 L302.7 376.9 L309.2 376.9 L311.8 381.2 L311.8 383.4 Z" fill="#c9cce0"/>
<path d="M335 383.4 L335 372.1 L337.2 379.1 L339.3 379.1 L339.3 383.4 Z" fill="#c9cce0"/>
<path d="M343.6 383.4 L343.6 378.5 L345.9 377.5 L348.1 326.8 L350.2 326.8 L352.4 345.2 L354.5 374.6 L354.5 383.4 Z" fill="#c9cce0"/>
<path d="M356.7 383.4 L356.7 376.9 L358.8 358.6 L361 383.9 L361 383.4 Z" fill="#c9cce0"/>
<path d="M363.2 383.4 L363.2 383.9 L365.3 376.4 L367.5 375.8 L367.5 383.4 Z" fill="#c9cce0"/>
<path d="M395.5 383.4 L395.5 378 L397.5 377 L399.5 379 L399.5 383.4 Z" fill="#c9cce0"/>
<path d="M401.5 383.4 L401.5 374 L403.5 376.5 L405 375 L406 373.2 L408 382 L408 383.4 Z" fill="#c9cce0"/>
<path d="M421.5 383.4 L421.5 339.8 L425.5 339.8 L425.5 383.4 Z" fill="#c9cce0"/>
<line x1="294.4" y1="361.6" x2="427.7" y2="361.6" stroke="#c9c9c9" stroke-width="1" />
<line x1="294.4" y1="331.3" x2="427.7" y2="331.3" stroke="#c2446d" stroke-width="1.2" />
<path d="M294.6 379.6 L296.2 377.8 L298.2 383.4" fill="none" stroke="#4b5b98" stroke-width="0.9" stroke-linejoin="round"/>
<circle cx="294.6" cy="379.6" r="0.65" fill="#3d4f90"/>
<circle cx="296.2" cy="377.8" r="0.65" fill="#3d4f90"/>
<circle cx="298.2" cy="383.4" r="0.65" fill="#3d4f90"/>
<path d="M300.3 374.8 L302.7 376.9 L309.2 376.9 L311.8 381.2 L313.5 383.4 L315.6 382.8 L318 373.7" fill="none" stroke="#4b5b98" stroke-width="0.9" stroke-linejoin="round"/>
<circle cx="300.3" cy="374.8" r="0.65" fill="#3d4f90"/>
<circle cx="302.7" cy="376.9" r="0.65" fill="#3d4f90"/>
<circle cx="309.2" cy="376.9" r="0.65" fill="#3d4f90"/>
<circle cx="311.8" cy="381.2" r="0.65" fill="#3d4f90"/>
<circle cx="313.5" cy="383.4" r="0.65" fill="#3d4f90"/>
<circle cx="315.6" cy="382.8" r="0.65" fill="#3d4f90"/>
<circle cx="318" cy="373.7" r="0.65" fill="#3d4f90"/>
<path d="M320 383.6 L324.5 383.6" fill="none" stroke="#4b5b98" stroke-width="0.9" stroke-linejoin="round"/>
<circle cx="320" cy="383.6" r="0.65" fill="#3d4f90"/>
<circle cx="324.5" cy="383.6" r="0.65" fill="#3d4f90"/>
<path d="M326.4 381.2 L328.5 380.2 L330.7 383.4 L333.4 376.9" fill="none" stroke="#4b5b98" stroke-width="0.9" stroke-linejoin="round"/>
<circle cx="326.4" cy="381.2" r="0.65" fill="#3d4f90"/>
<circle cx="328.5" cy="380.2" r="0.65" fill="#3d4f90"/>
<circle cx="330.7" cy="383.4" r="0.65" fill="#3d4f90"/>
<circle cx="333.4" cy="376.9" r="0.65" fill="#3d4f90"/>
<path d="M335 372.1 L337.2 379.1 L339.3 379.1 L341.5 381.2 L343.6 378.5 L345.9 377.5 L348.1 326.8 L350.2 326.8 L352.4 345.2 L354.5 374.6" fill="none" stroke="#4b5b98" stroke-width="0.9" stroke-linejoin="round"/>
<circle cx="335" cy="372.1" r="0.65" fill="#3d4f90"/>
<circle cx="337.2" cy="379.1" r="0.65" fill="#3d4f90"/>
<circle cx="339.3" cy="379.1" r="0.65" fill="#3d4f90"/>
<circle cx="341.5" cy="381.2" r="0.65" fill="#3d4f90"/>
<circle cx="343.6" cy="378.5" r="0.65" fill="#3d4f90"/>
<circle cx="345.9" cy="377.5" r="0.65" fill="#3d4f90"/>
<circle cx="348.1" cy="326.8" r="0.65" fill="#3d4f90"/>
<circle cx="350.2" cy="326.8" r="0.65" fill="#3d4f90"/>
<circle cx="352.4" cy="345.2" r="0.65" fill="#3d4f90"/>
<circle cx="354.5" cy="374.6" r="0.65" fill="#3d4f90"/>
<path d="M356.7 376.9 L358.8 358.6 L361 383.9 L363.2 383.9 L365.3 376.4 L367.5 375.8" fill="none" stroke="#4b5b98" stroke-width="0.9" stroke-linejoin="round"/>
<circle cx="356.7" cy="376.9" r="0.65" fill="#3d4f90"/>
<circle cx="358.8" cy="358.6" r="0.65" fill="#3d4f90"/>
<circle cx="361" cy="383.9" r="0.65" fill="#3d4f90"/>
<circle cx="363.2" cy="383.9" r="0.65" fill="#3d4f90"/>
<circle cx="365.3" cy="376.4" r="0.65" fill="#3d4f90"/>
<circle cx="367.5" cy="375.8" r="0.65" fill="#3d4f90"/>
<path d="M369.6 378.5 L371.2 378.5" fill="none" stroke="#4b5b98" stroke-width="0.9" stroke-linejoin="round"/>
<circle cx="369.6" cy="378.5" r="0.65" fill="#3d4f90"/>
<circle cx="371.2" cy="378.5" r="0.65" fill="#3d4f90"/>
<path d="M373.9 367.2 L375.5 381.2 L378.2 381.2 L380.4 382.3 L382.5 383.4" fill="none" stroke="#4b5b98" stroke-width="0.9" stroke-linejoin="round"/>
<circle cx="373.9" cy="367.2" r="0.65" fill="#3d4f90"/>
<circle cx="375.5" cy="381.2" r="0.65" fill="#3d4f90"/>
<circle cx="378.2" cy="381.2" r="0.65" fill="#3d4f90"/>
<circle cx="380.4" cy="382.3" r="0.65" fill="#3d4f90"/>
<circle cx="382.5" cy="383.4" r="0.65" fill="#3d4f90"/>
<path d="M386.8 381.2 L389 381.2 L391.2 383.9 L393.3 379.6 L395.5 378 L397.5 377 L399.5 379 L401.5 374 L403.5 376.5 L405 375 L406 373.2 L408 382" fill="none" stroke="#4b5b98" stroke-width="0.9" stroke-linejoin="round"/>
<circle cx="386.8" cy="381.2" r="0.65" fill="#3d4f90"/>
<circle cx="389" cy="381.2" r="0.65" fill="#3d4f90"/>
<circle cx="391.2" cy="383.9" r="0.65" fill="#3d4f90"/>
<circle cx="393.3" cy="379.6" r="0.65" fill="#3d4f90"/>
<circle cx="395.5" cy="378" r="0.65" fill="#3d4f90"/>
<circle cx="397.5" cy="377" r="0.65" fill="#3d4f90"/>
<circle cx="399.5" cy="379" r="0.65" fill="#3d4f90"/>
<circle cx="401.5" cy="374" r="0.65" fill="#3d4f90"/>
<circle cx="403.5" cy="376.5" r="0.65" fill="#3d4f90"/>
<circle cx="405" cy="375" r="0.65" fill="#3d4f90"/>
<circle cx="406" cy="373.2" r="0.65" fill="#3d4f90"/>
<circle cx="408" cy="382" r="0.65" fill="#3d4f90"/>
<path d="M410.5 382.5 L415 382.5 L417 383.5 L420 383.5" fill="none" stroke="#4b5b98" stroke-width="0.9" stroke-linejoin="round"/>
<circle cx="410.5" cy="382.5" r="0.65" fill="#3d4f90"/>
<circle cx="415" cy="382.5" r="0.65" fill="#3d4f90"/>
<circle cx="417" cy="383.5" r="0.65" fill="#3d4f90"/>
<circle cx="420" cy="383.5" r="0.65" fill="#3d4f90"/>
<path d="M421.5 339.8 L425.5 339.8" fill="none" stroke="#4b5b98" stroke-width="0.9" stroke-linejoin="round"/>
<circle cx="421.5" cy="339.8" r="0.65" fill="#3d4f90"/>
<circle cx="425.5" cy="339.8" r="0.65" fill="#3d4f90"/>
<circle cx="298.2" cy="383.4" r="0.85" fill="#e0b020"/>
<circle cx="365.3" cy="376.4" r="0.85" fill="#e0208a"/>
<circle cx="384.7" cy="378" r="0.85" fill="#4b5b98"/>
<rect x="294.4" y="324.2" width="133.3" height="59.2" fill="none" stroke="#1c1c1c" stroke-width="1.2"/>
<line x1="293.8" y1="383.75" x2="428.3" y2="383.75" stroke="#303030" stroke-width="1.6" />
<text  x="291.2" y="386.1" text-anchor="end" style="font-size:7.8px;fill:#1a1a1a;stroke:#1a1a1a;stroke-width:0.1px" >0</text>
<text  x="291.2" y="369.8" text-anchor="end" style="font-size:7.8px;fill:#1a1a1a;stroke:#1a1a1a;stroke-width:0.1px" >1</text>
<text  x="291.2" y="352.9" text-anchor="end" style="font-size:7.8px;fill:#1a1a1a;stroke:#1a1a1a;stroke-width:0.1px" >2</text>
<text  x="291.2" y="335.7" text-anchor="end" style="font-size:7.8px;fill:#1a1a1a;stroke:#1a1a1a;stroke-width:0.1px" >3</text>
<text  x="296.5" y="391" text-anchor="middle" style="font-size:4.5px;fill:#333;stroke:#333;stroke-width:0.1px" >1</text>
<text  x="305.4" y="391" text-anchor="middle" style="font-size:4.5px;fill:#333;stroke:#333;stroke-width:0.1px" >2</text>
<text  x="315.7" y="391" text-anchor="middle" style="font-size:4.5px;fill:#333;stroke:#333;stroke-width:0.1px" >3</text>
<text  x="322" y="391" text-anchor="middle" style="font-size:4.5px;fill:#333;stroke:#333;stroke-width:0.1px" >4</text>
<text  x="330" y="391" text-anchor="middle" style="font-size:4.5px;fill:#333;stroke:#333;stroke-width:0.1px" >5</text>
<text  x="337.7" y="391" text-anchor="middle" style="font-size:4.5px;fill:#333;stroke:#333;stroke-width:0.1px" >6</text>
<text  x="348.2" y="391" text-anchor="middle" style="font-size:4.5px;fill:#333;stroke:#333;stroke-width:0.1px" >7</text>
<text  x="358.8" y="391" text-anchor="middle" style="font-size:4.5px;fill:#333;stroke:#333;stroke-width:0.1px" >8</text>
<text  x="365.2" y="391" text-anchor="middle" style="font-size:4.5px;fill:#333;stroke:#333;stroke-width:0.1px" >9</text>
<text  x="370.6" y="391" text-anchor="middle" style="font-size:4.5px;fill:#333;stroke:#333;stroke-width:0.1px" >10</text>
<text  x="379.1" y="391" text-anchor="middle" style="font-size:4.5px;fill:#333;stroke:#333;stroke-width:0.1px" >11</text>
<text  x="385.2" y="391" text-anchor="middle" style="font-size:4.5px;fill:#333;stroke:#333;stroke-width:0.1px" >12</text>
<text  x="390.3" y="391" text-anchor="middle" style="font-size:4.5px;fill:#333;stroke:#333;stroke-width:0.1px" >13</text>
<text  x="397" y="391" text-anchor="middle" style="font-size:4.5px;fill:#333;stroke:#333;stroke-width:0.1px" >14</text>
<text  x="405.6" y="391" text-anchor="middle" style="font-size:4.5px;fill:#333;stroke:#333;stroke-width:0.1px" >15</text>
<text  x="413.4" y="391" text-anchor="middle" style="font-size:4.5px;fill:#333;stroke:#333;stroke-width:0.1px" >17</text>
<text  x="418.6" y="391" text-anchor="middle" style="font-size:4.5px;fill:#333;stroke:#333;stroke-width:0.1px" >18</text>
<text  x="423.7" y="391" text-anchor="middle" style="font-size:4.5px;fill:#333;stroke:#333;stroke-width:0.1px" >19</text>
<text  x="360.8" y="402.3" text-anchor="middle" textLength="36.3" lengthAdjust="spacingAndGlyphs" style="font-size:10.2px;font-weight:bold;fill:#1a1a1a;stroke:#1a1a1a;stroke-width:0.1px" >Chromosome</text>
<text transform="translate(27 148) rotate(-90)" x="0" y="0" text-anchor="middle" textLength="47.9" lengthAdjust="spacingAndGlyphs" style="font-size:8.4px;fill:#1a1a1a;font-weight:bold">-Log10 (p value)</text>
<text transform="translate(114.5 354.6) rotate(-90)" x="0" y="0" text-anchor="middle" textLength="47.7" lengthAdjust="spacingAndGlyphs" style="font-size:8.4px;fill:#1a1a1a;font-weight:bold">-Log10 (p value)</text>
<text  x="122.7" y="312.9" text-anchor="middle" style="font-size:7.8px;fill:#1a1a1a;stroke:#1a1a1a;stroke-width:0.1px" >4</text>
<text  x="158.2" y="436.9" text-anchor="middle" textLength="28.11" lengthAdjust="spacingAndGlyphs" style="font-size:8.1px;fill:#1a1a1a;stroke:#1a1a1a;stroke-width:0.1px" >Position</text>
<text  x="239.6" y="436.9" text-anchor="middle" textLength="30.3" lengthAdjust="spacingAndGlyphs" style="font-size:8.1px;fill:#1a1a1a;stroke:#1a1a1a;stroke-width:0.1px" >Mutation</text>
<text  x="305.2" y="436.9" text-anchor="middle" textLength="38.22" lengthAdjust="spacingAndGlyphs" style="font-size:8.1px;fill:#1a1a1a;stroke:#1a1a1a;stroke-width:0.1px" >AA change</text>
<text  x="367.7" y="436.9" text-anchor="middle" textLength="16.24" lengthAdjust="spacingAndGlyphs" style="font-size:8.1px;fill:#1a1a1a;stroke:#1a1a1a;stroke-width:0.1px" >PPH</text>
<text  x="20.8" y="452.6" textLength="56.52" lengthAdjust="spacingAndGlyphs" style="font-size:8.2px;font-style:italic;fill:#1a1a1a;stroke:#1a1a1a;stroke-width:0.1px" >guangdong(gdg)</text>
<text  x="158.2" y="452.6" text-anchor="middle" textLength="64.42" lengthAdjust="spacingAndGlyphs" style="font-size:8.1px;fill:#1a1a1a;stroke:#1a1a1a;stroke-width:0.1px" >Chr.7:110,803,162</text>
<text  x="239.6" y="452.6" text-anchor="middle" textLength="21.37" lengthAdjust="spacingAndGlyphs" style="font-size:8.1px;fill:#1a1a1a;stroke:#1a1a1a;stroke-width:0.1px" >T to C</text>
<text  x="305.6" y="452.6" text-anchor="middle" textLength="26.34" lengthAdjust="spacingAndGlyphs" style="font-size:8.1px;fill:#1a1a1a;stroke:#1a1a1a;stroke-width:0.1px" >W449R</text>
<text  x="367.8" y="452.6" text-anchor="middle" textLength="4.39" lengthAdjust="spacingAndGlyphs" style="font-size:8.1px;fill:#1a1a1a;stroke:#1a1a1a;stroke-width:0.1px" >1</text>
<text  x="20.8" y="468.9" textLength="40.22" lengthAdjust="spacingAndGlyphs" style="font-size:8.2px;font-style:italic;fill:#1a1a1a;stroke:#1a1a1a;stroke-width:0.1px" >carson(csn)</text>
<text  x="158.2" y="468.9" text-anchor="middle" textLength="64.42" lengthAdjust="spacingAndGlyphs" style="font-size:8.1px;fill:#1a1a1a;stroke:#1a1a1a;stroke-width:0.1px" >Chr.7:110,800,710</text>
<text  x="239.6" y="468.9" text-anchor="middle" textLength="22.39" lengthAdjust="spacingAndGlyphs" style="font-size:8.1px;fill:#1a1a1a;stroke:#1a1a1a;stroke-width:0.1px" >C to C</text>
<text  x="305.6" y="468.9" text-anchor="middle" textLength="24.59" lengthAdjust="spacingAndGlyphs" style="font-size:8.1px;fill:#1a1a1a;stroke:#1a1a1a;stroke-width:0.1px" >T335M</text>
<text  x="367.8" y="468.9" text-anchor="middle" textLength="4.39" lengthAdjust="spacingAndGlyphs" style="font-size:8.1px;fill:#1a1a1a;stroke:#1a1a1a;stroke-width:0.1px" >1</text>
<text  x="20.8" y="485.1" textLength="47.09" lengthAdjust="spacingAndGlyphs" style="font-size:8.2px;font-style:italic;fill:#1a1a1a;stroke:#1a1a1a;stroke-width:0.1px" >penasco(pao)</text>
<text  x="158.2" y="485.1" text-anchor="middle" textLength="64.42" lengthAdjust="spacingAndGlyphs" style="font-size:8.1px;fill:#1a1a1a;stroke:#1a1a1a;stroke-width:0.1px" >Chr.7:110,803,226</text>
<text  x="239.6" y="485.1" text-anchor="middle" textLength="21.37" lengthAdjust="spacingAndGlyphs" style="font-size:8.1px;fill:#1a1a1a;stroke:#1a1a1a;stroke-width:0.1px" >T to C</text>
<text  x="305.6" y="485.1" text-anchor="middle" textLength="20.2" lengthAdjust="spacingAndGlyphs" style="font-size:8.1px;fill:#1a1a1a;stroke:#1a1a1a;stroke-width:0.1px" >I470T</text>
<text  x="367.8" y="485.1" text-anchor="middle" textLength="19.77" lengthAdjust="spacingAndGlyphs" style="font-size:8.1px;fill:#1a1a1a;stroke:#1a1a1a;stroke-width:0.1px" >0.998</text>
<text  x="20.8" y="501.4" textLength="29.95" lengthAdjust="spacingAndGlyphs" style="font-size:8.2px;font-style:italic;fill:#1a1a1a;stroke:#1a1a1a;stroke-width:0.1px" >taos(tos)</text>
<text  x="158.2" y="501.4" text-anchor="middle" textLength="64.42" lengthAdjust="spacingAndGlyphs" style="font-size:8.1px;fill:#1a1a1a;stroke:#1a1a1a;stroke-width:0.1px" >Chr.7:110,804,935</text>
<text  x="239.6" y="501.4" text-anchor="middle" textLength="21.81" lengthAdjust="spacingAndGlyphs" style="font-size:8.1px;fill:#1a1a1a;stroke:#1a1a1a;stroke-width:0.1px" >T to G</text>
<text  x="305.6" y="501.4" text-anchor="middle" textLength="24.16" lengthAdjust="spacingAndGlyphs" style="font-size:8.1px;fill:#1a1a1a;stroke:#1a1a1a;stroke-width:0.1px" >S555R</text>
<text  x="367.8" y="501.4" text-anchor="middle" textLength="19.77" lengthAdjust="spacingAndGlyphs" style="font-size:8.1px;fill:#1a1a1a;stroke:#1a1a1a;stroke-width:0.1px" >0.994</text>
<text  x="20.8" y="517.7" textLength="61.62" lengthAdjust="spacingAndGlyphs" style="font-size:8.2px;font-style:italic;fill:#1a1a1a;stroke:#1a1a1a;stroke-width:0.1px" >commanche(cme)</text>
<text  x="158.2" y="517.7" text-anchor="middle" textLength="64.42" lengthAdjust="spacingAndGlyphs" style="font-size:8.1px;fill:#1a1a1a;stroke:#1a1a1a;stroke-width:0.1px" >Chr.7:110,807,871</text>
<text  x="239.6" y="517.7" text-anchor="middle" textLength="21.96" lengthAdjust="spacingAndGlyphs" style="font-size:8.1px;fill:#1a1a1a;stroke:#1a1a1a;stroke-width:0.1px" >A to G</text>
<text  x="305.6" y="517.7" text-anchor="middle" textLength="24.16" lengthAdjust="spacingAndGlyphs" style="font-size:8.1px;fill:#1a1a1a;stroke:#1a1a1a;stroke-width:0.1px" >K644R</text>
<text  x="367.8" y="517.7" text-anchor="middle" textLength="19.77" lengthAdjust="spacingAndGlyphs" style="font-size:8.1px;fill:#1a1a1a;stroke:#1a1a1a;stroke-width:0.1px" >0.949</text>
<rect x="11.5" y="630.6" width="230.9" height="22.8" fill="#c6c4c9" stroke="#5b74a6" stroke-width="1"/>
<rect x="102.4" y="631.1" width="131" height="21.6" fill="#2e4a7e" />
<line x1="102" y1="631.1" x2="102" y2="652.7" stroke="#e6e4e6" stroke-width="0.8" />
<text  x="11.4" y="625.9" text-anchor="middle" style="font-size:7.4px;fill:#1a1a1a;stroke:#1a1a1a;stroke-width:0.1px" >1</text>
<text  x="103.2" y="625.9" text-anchor="middle" textLength="14" lengthAdjust="spacingAndGlyphs" style="font-size:7.6px;fill:#1a1a1a;stroke:#1a1a1a;stroke-width:0.1px" >309</text>
<text  x="233.4" y="625.9" text-anchor="middle" textLength="13" lengthAdjust="spacingAndGlyphs" style="font-size:7.6px;fill:#1a1a1a;stroke:#1a1a1a;stroke-width:0.1px" >716</text>
<line x1="115.2" y1="617.6" x2="115.2" y2="630.6" stroke="#1a1a1a" stroke-width="1.1" />
<line x1="131.7" y1="617.6" x2="131.7" y2="630.6" stroke="#1a1a1a" stroke-width="1.1" />
<line x1="141.8" y1="617.6" x2="141.8" y2="630.6" stroke="#1a1a1a" stroke-width="1.1" />
<line x1="167.8" y1="617.6" x2="167.8" y2="630.6" stroke="#1a1a1a" stroke-width="1.1" />
<line x1="194.6" y1="617.6" x2="194.6" y2="630.6" stroke="#1a1a1a" stroke-width="1.1" />
<text  x="167.7" y="644.6" text-anchor="middle" textLength="54" lengthAdjust="spacingAndGlyphs" style="font-size:7.8px;fill:#ffffff;stroke:#ffffff;stroke-width:0.1px" >AMP deaminase</text>
<text transform="translate(115.4 615.6) rotate(-45)" x="0" y="0" style="font-size:7.9px;fill:#1a1a1a;stroke:#1a1a1a;stroke-width:0.1px"><tspan style="font-style:italic">carson</tspan> T335M</text>
<text transform="translate(131.8 616) rotate(-45)" x="0" y="0" style="font-size:7.9px;fill:#1a1a1a;stroke:#1a1a1a;stroke-width:0.1px"><tspan style="font-style:italic">guangdong</tspan> W449R</text>
<text transform="translate(142.4 616) rotate(-45)" x="0" y="0" style="font-size:7.6px;fill:#1a1a1a;stroke:#1a1a1a;stroke-width:0.1px"><tspan style="font-style:italic">penasco</tspan> I470T</text>
<text transform="translate(167 615) rotate(-45)" x="0" y="0" style="font-size:7.9px;fill:#1a1a1a;stroke:#1a1a1a;stroke-width:0.1px"><tspan style="font-style:italic">taos</tspan> S555R</text>
<text transform="translate(194.8 615) rotate(-45)" x="0" y="0" style="font-size:7.8px;fill:#1a1a1a;stroke:#1a1a1a;stroke-width:0.1px"><tspan style="font-style:italic">commanche</tspan> K644R</text>
<defs><filter id="bl" x="-20%" y="-50%" width="140%" height="200%"><feGaussianBlur stdDeviation="0.95"/></filter><filter id="bl3" x="-20%" y="-30%" width="140%" height="160%"><feGaussianBlur stdDeviation="4"/></filter><filter id="bl2" x="-20%" y="-80%" width="140%" height="260%"><feGaussianBlur stdDeviation="1.3"/></filter></defs>
<rect x="271" y="583.8" width="146.6" height="72.3" fill="#f8f8f8" />
<rect x="280" y="594" width="131" height="50" rx="8" fill="#f3f3f3" filter="url(#bl3)"/>
<text transform="translate(295 577.6) rotate(-90)" x="0" y="0" style="font-size:7.6px;fill:#1a1a1a;stroke:#1a1a1a;stroke-width:0.12px">WT</text>
<text transform="translate(317 577.6) rotate(-90)" x="0" y="0" style="font-size:7.6px;fill:#1a1a1a;stroke:#1a1a1a;stroke-width:0.12px">csn</text>
<text transform="translate(333.8 577.6) rotate(-90)" x="0" y="0" style="font-size:7.6px;fill:#1a1a1a;stroke:#1a1a1a;stroke-width:0.12px">gdg</text>
<text transform="translate(359.4 577.6) rotate(-90)" x="0" y="0" style="font-size:7.6px;fill:#1a1a1a;stroke:#1a1a1a;stroke-width:0.12px">pao</text>
<text transform="translate(380.8 577.6) rotate(-90)" x="0" y="0" style="font-size:7.6px;fill:#1a1a1a;stroke:#1a1a1a;stroke-width:0.12px">tos</text>
<text transform="translate(403.8 577.6) rotate(-90)" x="0" y="0" style="font-size:7.6px;fill:#1a1a1a;stroke:#1a1a1a;stroke-width:0.12px">cme</text>
<path d="M287 597.8 Q295.5 597.2 304 598.6 Q306.4 598.6 306.4 601 L306.4 606.6 Q306.4 609 304 609 Q295.5 608.9 287 607.6 Q284.6 607.6 284.6 605.2 L284.6 600.2 Q284.6 597.8 287 597.8 Z" fill="#000" filter="url(#bl)"/>
<path d="M309.2 598.6 Q317.1 597.7 325 598.8 Q327.4 598.8 327.4 601.2 L327.4 606 Q327.4 608.4 325 608.4 Q317.1 608.8 309.2 608 Q306.8 608 306.8 605.6 L306.8 601 Q306.8 598.6 309.2 598.6 Z" fill="#000" filter="url(#bl)"/>
<path d="M332.5 601 Q337.5 599.9 342.5 600.8 Q344.8 600.8 344.8 603.1 L344.8 603.3 Q344.8 605.6 342.5 605.6 Q337.5 606.2 332.5 605.6 Q330.2 605.6 330.2 603.3 L330.2 603.3 Q330.2 601 332.5 601 Z" fill="#000" filter="url(#bl)"/>
<path d="M352 600.8 Q357.3 599.7 362.6 600.6 Q365 600.6 365 603 L365 603.6 Q365 606 362.6 606 Q357.3 606.7 352 606.2 Q349.6 606.2 349.6 603.8 L349.6 603.2 Q349.6 600.8 352 600.8 Z" fill="#000" filter="url(#bl)"/>
<path d="M371.2 598.6 Q376.9 597.6 382.6 598.6 Q385 598.6 385 601 L385 605.2 Q385 607.6 382.6 607.6 Q376.9 608.1 371.2 607.4 Q368.8 607.4 368.8 605 L368.8 601 Q368.8 598.6 371.2 598.6 Z" fill="#000" filter="url(#bl)"/>
<path d="M390.2 598.6 Q397.4 597.7 404.6 598.8 Q407 598.8 407 601.2 L407 606 Q407 608.4 404.6 608.4 Q397.4 608.8 390.2 608 Q387.8 608 387.8 605.6 L387.8 601 Q387.8 598.6 390.2 598.6 Z" fill="#000" filter="url(#bl)"/>
<rect x="286" y="611.8" width="17.6" height="3.6" rx="2" fill="#b8b8b8" filter="url(#bl2)"/>
<rect x="309" y="612.2" width="15.4" height="3.6" rx="2" fill="#b8b8b8" filter="url(#bl2)"/>
<rect x="332" y="612.6" width="12" height="2.4" rx="2" fill="#e6e6e6" filter="url(#bl2)"/>
<rect x="351" y="612.8" width="12" height="2.6" rx="2" fill="#e2e2e2" filter="url(#bl2)"/>
<rect x="370.6" y="612.2" width="12.2" height="3.8" rx="2" fill="#7c7c7c" filter="url(#bl2)"/>
<rect x="389.4" y="612.8" width="14.2" height="3.2" rx="2" fill="#999999" filter="url(#bl2)"/>
<rect x="398.8" y="612.6" width="5" height="3.8" rx="1.5" fill="#606060" filter="url(#bl2)"/>
<path d="M287.8 633 Q295.2 632.4 302.6 633.8 Q305 633.8 305 636.2 L305 637 Q305 639.4 302.6 639.4 Q295.2 640.2 287.8 639.8 Q285.4 639.8 285.4 637.4 L285.4 635.4 Q285.4 633 287.8 633 Z" fill="#000" filter="url(#bl)"/>
<path d="M312 633.6 Q318.4 632.4 324.8 633.2 Q327.2 633.2 327.2 635.6 L327.2 636.4 Q327.2 638.8 324.8 638.8 Q318.4 639.6 312 639.2 Q309.6 639.2 309.6 636.8 L309.6 636 Q309.6 633.6 312 633.6 Z" fill="#000" filter="url(#bl)"/>
<path d="M333.6 632.8 Q338.4 631.7 343.2 632.6 Q345.6 632.6 345.6 635 L345.6 636 Q345.6 638.4 343.2 638.4 Q338.4 639.1 333.6 638.6 Q331.2 638.6 331.2 636.2 L331.2 635.2 Q331.2 632.8 333.6 632.8 Z" fill="#000" filter="url(#bl)"/>
<path d="M354 631.8 Q359.1 630.7 364.2 631.6 Q366.6 631.6 366.6 634 L366.6 635 Q366.6 637.4 364.2 637.4 Q359.1 638.2 354 637.8 Q351.6 637.8 351.6 635.4 L351.6 634.2 Q351.6 631.8 354 631.8 Z" fill="#000" filter="url(#bl)"/>
<path d="M373 631.2 Q378.3 630.1 383.6 631 Q386 631 386 633.4 L386 635 Q386 637.4 383.6 637.4 Q378.3 638.2 373 637.8 Q370.6 637.8 370.6 635.4 L370.6 633.6 Q370.6 631.2 373 631.2 Z" fill="#000" filter="url(#bl)"/>
<path d="M393.8 631 Q398.8 630.1 403.8 631.2 Q406.2 631.2 406.2 633.6 L406.2 634.6 Q406.2 637 403.8 637 Q398.8 637.7 393.8 637.2 Q391.4 637.2 391.4 634.8 L391.4 633.4 Q391.4 631 393.8 631 Z" fill="#000" filter="url(#bl)"/>
<text  x="421" y="609.5" textLength="49" lengthAdjust="spacingAndGlyphs" style="font-size:8.1px;fill:#1a1a1a;stroke:#1a1a1a;stroke-width:0.1px" >AMPD3-FLAG</text>
<text  x="421" y="635" textLength="16.5" lengthAdjust="spacingAndGlyphs" style="font-size:8.1px;fill:#1a1a1a;stroke:#1a1a1a;stroke-width:0.1px" >GFP</text>
</svg>
</body></html>
